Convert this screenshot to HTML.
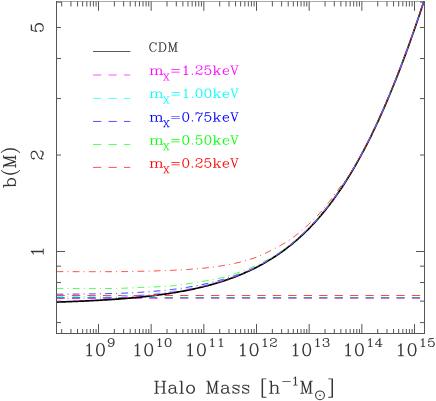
<!DOCTYPE html>
<html><head><meta charset="utf-8"><title>b(M)</title>
<style>html,body{margin:0;padding:0;background:#fff;}svg{display:block;}text{font-family:"Liberation Serif",serif;}</style></head><body>
<svg width="436" height="401" viewBox="0 0 436 401">
<rect x="0" y="0" width="436" height="401" fill="#fff"/>
<defs><clipPath id="cp"><rect x="56" y="1" width="369" height="333"/></clipPath></defs>
<g clip-path="url(#cp)">
<line x1="56.5" x2="424" y1="297.5" y2="297.5" stroke="#3ca082" stroke-width="1" stroke-dasharray="8.3 7.15" opacity="1"/>
<line x1="56.5" x2="424" y1="298.5" y2="298.5" stroke="#d26efa" stroke-width="1" stroke-dasharray="8.3 7.15" opacity="1"/>
<path d="M56.50,302.08 L57.73,302.04 L58.96,302.00 L60.19,301.96 L61.42,301.92 L62.65,301.88 L63.88,301.84 L65.11,301.79 L66.34,301.75 L67.57,301.71 L68.80,301.66 L70.03,301.61 L71.26,301.57 L72.49,301.52 L73.72,301.47 L74.95,301.42 L76.18,301.37 L77.41,301.32 L78.64,301.27 L79.87,301.22 L81.10,301.17 L82.33,301.11 L83.56,301.06 L84.79,301.00 L86.02,300.94 L87.25,300.88 L88.48,300.82 L89.71,300.76 L90.94,300.70 L92.17,300.64 L93.40,300.57 L94.63,300.51 L95.86,300.44 L97.09,300.38 L98.32,300.31 L99.55,300.24 L100.78,300.17 L102.01,300.09 L103.24,300.02 L104.47,299.95 L105.70,299.87 L106.93,299.79 L108.16,299.71 L109.39,299.63 L110.62,299.55 L111.85,299.47 L113.08,299.38 L114.31,299.30 L115.54,299.21 L116.77,299.12 L118.01,299.03 L119.24,298.94 L120.47,298.84 L121.70,298.75 L122.93,298.65 L124.16,298.55 L125.39,298.45 L126.62,298.35 L127.85,298.24 L129.08,298.14 L130.31,298.03 L131.54,297.92 L132.77,297.81 L134.00,297.69 L135.23,297.58 L136.46,297.46 L137.69,297.34 L138.92,297.22 L140.15,297.09 L141.38,296.97 L142.61,296.84 L143.84,296.71 L145.07,296.57 L146.30,296.44 L147.53,296.30 L148.76,296.16 L149.99,296.02 L151.22,295.87 L152.45,295.72 L153.68,295.57 L154.91,295.42 L156.14,295.26 L157.37,295.11 L158.60,294.94 L159.83,294.78 L161.06,294.61 L162.29,294.44 L163.52,294.27 L164.75,294.09 L165.98,293.91 L167.21,293.73 L168.44,293.55 L169.67,293.36 L170.90,293.17 L172.13,292.97 L173.36,292.77 L174.59,292.57 L175.82,292.36 L177.05,292.15 L178.28,291.94 L179.51,291.72 L180.74,291.50 L181.97,291.28 L183.20,291.05 L184.43,290.82 L185.66,290.58 L186.89,290.34 L188.12,290.10 L189.35,289.85 L190.58,289.60 L191.81,289.34 L193.04,289.08 L194.27,288.81 L195.50,288.54 L196.73,288.26 L197.96,287.98 L199.19,287.70 L200.42,287.41 L201.65,287.11 L202.88,286.81 L204.11,286.51 L205.34,286.20 L206.57,285.88 L207.80,285.56 L209.03,285.23 L210.26,284.90 L211.49,284.56 L212.72,284.22 L213.95,283.87 L215.18,283.51 L216.41,283.15 L217.64,282.78 L218.87,282.41 L220.10,282.03 L221.33,281.64 L222.56,281.24 L223.79,280.84 L225.02,280.43 L226.25,280.02 L227.48,279.60 L228.71,279.17 L229.94,278.73 L231.17,278.29 L232.40,277.84 L233.63,277.38 L234.86,276.91 L236.09,276.44 L237.32,275.96 L238.55,275.46 L239.78,274.97 L241.02,274.46 L242.25,273.94 L243.48,273.42 L244.71,272.88 L245.94,272.34 L247.17,271.79 L248.40,271.23 L249.63,270.66 L250.86,270.08 L252.09,269.49 L253.32,268.89 L254.55,268.28 L255.78,267.66 L257.01,267.03 L258.24,266.39 L259.47,265.74 L260.70,265.08 L261.93,264.40 L263.16,263.72 L264.39,263.02 L265.62,262.32 L266.85,261.60 L268.08,260.87 L269.31,260.12 L270.54,259.37 L271.77,258.60 L273.00,257.82 L274.23,257.03 L275.46,256.22 L276.69,255.40 L277.92,254.57 L279.15,253.73 L280.38,252.87 L281.61,251.99 L282.84,251.11 L284.07,250.20 L285.30,249.29 L286.53,248.35 L287.76,247.41 L288.99,246.45 L290.22,245.47 L291.45,244.48 L292.68,243.47 L293.91,242.44 L295.14,241.40 L296.37,240.34 L297.60,239.27 L298.83,238.18 L300.06,237.07 L301.29,235.94 L302.52,234.80 L303.75,233.64 L304.98,232.46 L306.21,231.26 L307.44,230.04 L308.67,228.80 L309.90,227.55 L311.13,226.28 L312.36,224.98 L313.59,223.67 L314.82,222.33 L316.05,220.98 L317.28,219.60 L318.51,218.21 L319.74,216.79 L320.97,215.35 L322.20,213.89 L323.43,212.41 L324.66,210.91 L325.89,209.38 L327.12,207.84 L328.35,206.27 L329.58,204.67 L330.81,203.05 L332.04,201.41 L333.27,199.75 L334.50,198.06 L335.73,196.35 L336.96,194.61 L338.19,192.85 L339.42,191.07 L340.65,189.25 L341.88,187.42 L343.11,185.56 L344.34,183.67 L345.57,181.76 L346.80,179.82 L348.03,177.85 L349.26,175.86 L350.49,173.84 L351.72,171.79 L352.95,169.72 L354.18,167.62 L355.41,165.49 L356.64,163.34 L357.87,161.15 L359.10,158.94 L360.33,156.70 L361.56,154.44 L362.79,152.14 L364.03,149.82 L365.26,147.46 L366.49,145.08 L367.72,142.67 L368.95,140.23 L370.18,137.76 L371.41,135.27 L372.64,132.74 L373.87,130.18 L375.10,127.60 L376.33,124.98 L377.56,122.34 L378.79,119.66 L380.02,116.96 L381.25,114.22 L382.48,111.46 L383.71,108.67 L384.94,105.85 L386.17,102.99 L387.40,100.11 L388.63,97.20 L389.86,94.26 L391.09,91.28 L392.32,88.28 L393.55,85.25 L394.78,82.19 L396.01,79.10 L397.24,75.98 L398.47,72.83 L399.70,69.66 L400.93,66.45 L402.16,63.21 L403.39,59.95 L404.62,56.65 L405.85,53.33 L407.08,49.98 L408.31,46.60 L409.54,43.19 L410.77,39.75 L412.00,36.29 L413.23,32.80 L414.46,29.28 L415.69,25.73 L416.92,22.15 L418.15,18.55 L419.38,14.92 L420.61,11.27 L421.84,7.59 L423.07,3.88 L424.30,0.14" fill="none" stroke="#000" stroke-width="1.7" stroke-linejoin="round"/>
<line x1="56.5" x2="424" y1="295.5" y2="295.5" stroke="#ff2828" stroke-width="1" stroke-dasharray="8.3 7.15" opacity="0.85"/>
<path d="M56.50,271.60 L57.42,271.61 L58.34,271.61 L59.27,271.62 L60.19,271.62 L61.11,271.63 L62.03,271.63 L62.95,271.63 L63.87,271.64 L64.80,271.64 L65.72,271.64 L66.64,271.65 L67.56,271.65 L68.48,271.65 L69.41,271.66 L70.33,271.66 L71.25,271.66 L72.17,271.67 L73.09,271.67 L74.01,271.67 L74.94,271.67 L75.86,271.67 L76.78,271.68 L77.70,271.68 L78.62,271.68 L79.55,271.68 L80.47,271.68 L81.39,271.69 L82.31,271.69 L83.23,271.69 L84.15,271.69 L85.08,271.69 L86.00,271.69 L86.92,271.69 L87.84,271.69 L88.76,271.69 L89.68,271.69 L90.61,271.70 L91.53,271.70 L92.45,271.70 L93.37,271.70 L94.29,271.70 L95.22,271.70 L96.14,271.70 L97.06,271.70 L97.98,271.70 L98.90,271.70 L99.82,271.70 L100.75,271.70 L101.67,271.70 L102.59,271.70 L103.51,271.70 L104.43,271.70 L105.36,271.70 L106.28,271.70 L107.20,271.70 L108.12,271.70 L109.04,271.70 L109.96,271.70 L110.89,271.70 L111.81,271.70 L112.73,271.69 L113.65,271.69 L114.57,271.69 L115.50,271.68 L116.42,271.67 L117.34,271.66 L118.26,271.66 L119.18,271.65 L120.10,271.64 L121.03,271.62 L121.95,271.61 L122.87,271.60 L123.79,271.59 L124.71,271.57 L125.64,271.56 L126.56,271.54 L127.48,271.53 L128.40,271.51 L129.32,271.50 L130.24,271.48 L131.17,271.46 L132.09,271.45 L133.01,271.43 L133.93,271.41 L134.85,271.40 L135.78,271.38 L136.70,271.36 L137.62,271.34 L138.54,271.33 L139.46,271.31 L140.38,271.29 L141.31,271.28 L142.23,271.26 L143.15,271.24 L144.07,271.22 L144.99,271.20 L145.92,271.18 L146.84,271.15 L147.76,271.13 L148.68,271.11 L149.60,271.09 L150.52,271.06 L151.45,271.04 L152.37,271.01 L153.29,270.98 L154.21,270.96 L155.13,270.93 L156.05,270.90 L156.98,270.87 L157.90,270.84 L158.82,270.81 L159.74,270.78 L160.66,270.75 L161.59,270.72 L162.51,270.69 L163.43,270.65 L164.35,270.62 L165.27,270.58 L166.19,270.55 L167.12,270.51 L168.04,270.48 L168.96,270.44 L169.88,270.40 L170.80,270.37 L171.73,270.33 L172.65,270.29 L173.57,270.25 L174.49,270.20 L175.41,270.16 L176.33,270.11 L177.26,270.07 L178.18,270.02 L179.10,269.97 L180.02,269.92 L180.94,269.87 L181.87,269.81 L182.79,269.76 L183.71,269.70 L184.63,269.65 L185.55,269.59 L186.47,269.53 L187.40,269.47 L188.32,269.41 L189.24,269.34 L190.16,269.28 L191.08,269.21 L192.01,269.14 L192.93,269.08 L193.85,269.01 L194.77,268.93 L195.69,268.86 L196.61,268.79 L197.54,268.71 L198.46,268.63 L199.38,268.55 L200.30,268.47 L201.22,268.39 L202.15,268.30 L203.07,268.21 L203.99,268.12 L204.91,268.02 L205.83,267.92 L206.75,267.82 L207.68,267.72 L208.60,267.61 L209.52,267.49 L210.44,267.38 L211.36,267.26 L212.28,267.14 L213.21,267.01 L214.13,266.89 L215.05,266.76 L215.97,266.63 L216.89,266.49 L217.82,266.35 L218.74,266.21 L219.66,266.07 L220.58,265.92 L221.50,265.78 L222.42,265.63 L223.35,265.47 L224.27,265.32 L225.19,265.16 L226.11,265.00 L227.03,264.84 L227.96,264.67 L228.88,264.51 L229.80,264.34 L230.72,264.17 L231.64,263.99 L232.56,263.80 L233.49,263.61 L234.41,263.42 L235.33,263.22 L236.25,263.01 L237.17,262.80 L238.10,262.58 L239.02,262.36 L239.94,262.13 L240.86,261.90 L241.78,261.66 L242.70,261.41 L243.63,261.16 L244.55,260.91 L245.47,260.65 L246.39,260.38 L247.31,260.11 L248.24,259.84 L249.16,259.56 L250.08,259.27 L251.00,258.98 L251.92,258.68 L252.84,258.38 L253.77,258.08 L254.69,257.76 L255.61,257.43 L256.53,257.08 L257.45,256.72 L258.38,256.34 L259.30,255.95 L260.22,255.54 L261.14,255.13 L262.06,254.71 L262.98,254.28 L263.91,253.85 L264.83,253.41 L265.75,252.97 L266.67,252.53 L267.59,252.09 L268.52,251.65 L269.44,251.21 L270.36,250.77 L271.28,250.32 L272.20,249.86 L273.12,249.40 L274.05,248.94 L274.97,248.46 L275.89,247.98 L276.81,247.50 L277.73,247.00 L278.65,246.50 L279.58,245.99 L280.50,245.47 L281.42,244.94 L282.34,244.40 L283.26,243.85 L284.19,243.29 L285.11,242.72 L286.03,242.14 L286.95,241.55 L287.87,240.94 L288.79,240.33 L289.72,239.71 L290.64,239.08 L291.56,238.44 L292.48,237.78 L293.40,237.12 L294.33,236.45 L295.25,235.77 L296.17,235.07 L297.09,234.36 L298.01,233.63 L298.93,232.89 L299.86,232.13 L300.78,231.35 L301.70,230.56 L302.62,229.76 L303.54,228.95 L304.47,228.13 L305.39,227.29 L306.31,226.45 L307.23,225.61 L308.15,224.76 L309.07,223.90 L310.00,223.03 L310.92,222.15 L311.84,221.26 L312.76,220.36 L313.68,219.45 L314.61,218.52 L315.53,217.59 L316.45,216.64 L317.37,215.67 L318.29,214.69 L319.21,213.70 L320.14,212.69 L321.06,211.66 L321.98,210.62 L322.90,209.55 L323.82,208.47 L324.75,207.37 L325.67,206.26 L326.59,205.14 L327.51,204.00 L328.43,202.85 L329.35,201.68 L330.28,200.50 L331.20,199.29 L332.12,198.06 L333.04,196.81 L333.96,195.54 L334.88,194.26 L335.81,192.98 L336.73,191.69 L337.65,190.42 L338.57,189.16 L339.49,187.91 L340.42,186.68 L341.34,185.46 L342.26,184.24 L343.18,183.02 L344.10,181.81 L345.02,180.60 L345.95,179.40 L346.87,178.20 L347.79,177.00 L348.71,175.81 L349.63,174.62 L350.56,173.24 L351.48,171.71 L352.40,170.16 L353.32,168.60 L354.24,167.02 L355.16,165.43 L356.09,163.82 L357.01,162.19 L357.93,160.55 L358.85,158.90 L359.77,157.23 L360.70,155.54 L361.62,153.84 L362.54,152.12 L363.46,150.39 L364.38,148.64 L365.30,146.87 L366.23,145.09 L367.15,143.29 L368.07,141.47 L368.99,139.64 L369.91,137.79 L370.84,135.93 L371.76,134.05 L372.68,132.15 L373.60,130.24 L374.52,128.31 L375.44,126.36 L376.37,124.40 L377.29,122.42 L378.21,120.42 L379.13,118.41 L380.05,116.38 L380.98,114.33 L381.90,112.27 L382.82,110.19 L383.74,108.09 L384.66,105.98 L385.58,103.85 L386.51,101.70 L387.43,99.54 L388.35,97.36 L389.27,95.16 L390.19,92.95 L391.12,90.72 L392.04,88.47 L392.96,86.21 L393.88,83.93 L394.80,81.63 L395.72,79.32 L396.65,76.99 L397.57,74.64 L398.49,72.28 L399.41,69.90 L400.33,67.50 L401.25,65.09 L402.18,62.66 L403.10,60.22 L404.02,57.76 L404.94,55.28 L405.86,52.79 L406.79,50.28 L407.71,47.75 L408.63,45.21 L409.55,42.66 L410.47,40.08 L411.39,37.49 L412.32,34.89 L413.24,32.27 L414.16,29.64 L415.08,26.98 L416.00,24.32 L416.93,21.64 L417.85,18.94 L418.77,16.23 L419.69,13.50 L420.61,10.76 L421.53,8.00 L422.46,5.23 L423.38,2.44 L424.30,-0.36" fill="none" stroke="#ff0000" stroke-width="1" stroke-dasharray="6.8 4.2 1 4.2" stroke-dashoffset="0" opacity="0.75"/>
<path d="M56.50,288.40 L57.42,288.41 L58.34,288.41 L59.27,288.42 L60.19,288.42 L61.11,288.43 L62.03,288.43 L62.95,288.43 L63.87,288.44 L64.80,288.44 L65.72,288.44 L66.64,288.45 L67.56,288.45 L68.48,288.45 L69.41,288.46 L70.33,288.46 L71.25,288.46 L72.17,288.47 L73.09,288.47 L74.01,288.47 L74.94,288.47 L75.86,288.47 L76.78,288.48 L77.70,288.48 L78.62,288.48 L79.55,288.48 L80.47,288.48 L81.39,288.49 L82.31,288.49 L83.23,288.49 L84.15,288.49 L85.08,288.49 L86.00,288.49 L86.92,288.49 L87.84,288.49 L88.76,288.49 L89.68,288.49 L90.61,288.50 L91.53,288.50 L92.45,288.50 L93.37,288.50 L94.29,288.50 L95.22,288.50 L96.14,288.50 L97.06,288.50 L97.98,288.50 L98.90,288.50 L99.82,288.50 L100.75,288.50 L101.67,288.50 L102.59,288.50 L103.51,288.50 L104.43,288.50 L105.36,288.50 L106.28,288.50 L107.20,288.50 L108.12,288.50 L109.04,288.50 L109.96,288.50 L110.89,288.50 L111.81,288.49 L112.73,288.49 L113.65,288.47 L114.57,288.46 L115.50,288.44 L116.42,288.43 L117.34,288.40 L118.26,288.38 L119.18,288.35 L120.10,288.33 L121.03,288.30 L121.95,288.27 L122.87,288.23 L123.79,288.20 L124.71,288.16 L125.64,288.12 L126.56,288.09 L127.48,288.05 L128.40,288.01 L129.32,287.97 L130.24,287.93 L131.17,287.88 L132.09,287.84 L133.01,287.80 L133.93,287.76 L134.85,287.72 L135.78,287.68 L136.70,287.64 L137.62,287.60 L138.54,287.56 L139.46,287.52 L140.38,287.48 L141.31,287.45 L142.23,287.41 L143.15,287.37 L144.07,287.34 L144.99,287.30 L145.92,287.26 L146.84,287.23 L147.76,287.19 L148.68,287.15 L149.60,287.11 L150.52,287.07 L151.45,287.04 L152.37,287.00 L153.29,286.95 L154.21,286.91 L155.13,286.87 L156.05,286.83 L156.98,286.78 L157.90,286.74 L158.82,286.69 L159.74,286.64 L160.66,286.59 L161.59,286.54 L162.51,286.49 L163.43,286.43 L164.35,286.38 L165.27,286.32 L166.19,286.26 L167.12,286.20 L168.04,286.14 L168.96,286.08 L169.88,286.01 L170.80,285.94 L171.73,285.86 L172.65,285.78 L173.57,285.69 L174.49,285.60 L175.41,285.50 L176.33,285.40 L177.26,285.29 L178.18,285.18 L179.10,285.06 L180.02,284.94 L180.94,284.81 L181.87,284.69 L182.79,284.55 L183.71,284.42 L184.63,284.28 L185.55,284.14 L186.47,284.00 L187.40,283.86 L188.32,283.71 L189.24,283.56 L190.16,283.41 L191.08,283.26 L192.01,283.11 L192.93,282.96 L193.85,282.81 L194.77,282.66 L195.69,282.50 L196.61,282.35 L197.54,282.20 L198.46,282.05 L199.38,281.90 L200.30,281.75 L201.22,281.60 L202.15,281.45 L203.07,281.30 L203.99,281.15 L204.91,281.00 L205.83,280.85 L206.75,280.69 L207.68,280.54 L208.60,280.38 L209.52,280.22 L210.44,280.05 L211.36,279.88 L212.28,279.71 L213.21,279.54 L214.13,279.36 L215.05,279.18 L215.97,279.00 L216.89,278.81 L217.82,278.61 L218.74,278.41 L219.66,278.21 L220.58,278.00 L221.50,277.78 L222.42,277.55 L223.35,277.31 L224.27,277.07 L225.19,276.81 L226.11,276.54 L227.03,276.27 L227.96,275.99 L228.88,275.70 L229.80,275.41 L230.72,275.11 L231.64,274.81 L232.56,274.50 L233.49,274.19 L234.41,273.88 L235.33,273.57 L236.25,273.25 L237.17,272.94 L238.10,272.63 L239.02,272.31 L239.94,271.99 L240.86,271.66 L241.78,271.33 L242.70,270.99 L243.63,270.66 L244.55,270.31 L245.47,269.96 L246.39,269.61 L247.31,269.24 L248.24,268.88 L249.16,268.50 L250.08,268.12 L251.00,267.73 L251.92,267.33 L252.84,266.93 L253.77,266.52 L254.69,266.10 L255.61,265.68 L256.53,265.24 L257.45,264.81 L258.38,264.36 L259.30,263.91 L260.22,263.45 L261.14,262.99 L262.06,262.52 L262.98,262.04 L263.91,261.56 L264.83,261.07 L265.75,260.58 L266.67,260.08 L267.59,259.57 L268.52,259.06 L269.44,258.54 L270.36,258.02 L271.28,257.49 L272.20,256.95 L273.12,256.41 L274.05,255.87 L274.97,255.32 L275.89,254.76 L276.81,254.19 L277.73,253.61 L278.65,253.02 L279.58,252.42 L280.50,251.81 L281.42,251.19 L282.34,250.57 L283.26,249.93 L284.19,249.28 L285.11,248.63 L286.03,247.97 L286.95,247.30 L287.87,246.63 L288.79,245.95 L289.72,245.26 L290.64,244.56 L291.56,243.86 L292.48,243.13 L293.40,242.37 L294.33,241.59 L295.25,240.81 L296.17,240.02 L297.09,239.22 L298.01,238.40 L298.93,237.58 L299.86,236.75 L300.78,235.91 L301.70,235.06 L302.62,234.20 L303.54,233.33 L304.47,232.45 L305.39,231.56 L306.31,230.66 L307.23,229.75 L308.15,228.83 L309.07,227.89 L310.00,226.95 L310.92,226.00 L311.84,225.03 L312.76,224.06 L313.68,223.07 L314.61,222.07 L315.53,221.06 L316.45,220.04 L317.37,219.00 L318.29,217.96 L319.21,216.90 L320.14,215.83 L321.06,214.75 L321.98,213.66 L322.90,212.55 L323.82,211.44 L324.75,210.31 L325.67,209.16 L326.59,208.01 L327.51,206.84 L328.43,205.66 L329.35,204.47 L330.28,203.26 L331.20,202.04 L332.12,200.81 L333.04,199.56 L333.96,198.31 L334.88,197.03 L335.81,195.75 L336.73,194.45 L337.65,193.13 L338.57,191.80 L339.49,190.46 L340.42,189.11 L341.34,187.74 L342.26,186.35 L343.18,184.95 L344.10,183.54 L345.02,182.11 L345.95,180.67 L346.87,179.21 L347.79,177.74 L348.71,176.25 L349.63,174.75 L350.56,173.24 L351.48,171.71 L352.40,170.16 L353.32,168.60 L354.24,167.02 L355.16,165.43 L356.09,163.82 L357.01,162.19 L357.93,160.55 L358.85,158.90 L359.77,157.23 L360.70,155.54 L361.62,153.84 L362.54,152.12 L363.46,150.39 L364.38,148.64 L365.30,146.87 L366.23,145.09 L367.15,143.29 L368.07,141.47 L368.99,139.64 L369.91,137.79 L370.84,135.93 L371.76,134.05 L372.68,132.15 L373.60,130.24 L374.52,128.31 L375.44,126.36 L376.37,124.40 L377.29,122.42 L378.21,120.42 L379.13,118.41 L380.05,116.38 L380.98,114.33 L381.90,112.27 L382.82,110.19 L383.74,108.09 L384.66,105.98 L385.58,103.85 L386.51,101.70 L387.43,99.54 L388.35,97.36 L389.27,95.16 L390.19,92.95 L391.12,90.72 L392.04,88.47 L392.96,86.21 L393.88,83.93 L394.80,81.63 L395.72,79.32 L396.65,76.99 L397.57,74.64 L398.49,72.28 L399.41,69.90 L400.33,67.50 L401.25,65.09 L402.18,62.66 L403.10,60.22 L404.02,57.76 L404.94,55.28 L405.86,52.79 L406.79,50.28 L407.71,47.75 L408.63,45.21 L409.55,42.66 L410.47,40.08 L411.39,37.49 L412.32,34.89 L413.24,32.27 L414.16,29.64 L415.08,26.98 L416.00,24.32 L416.93,21.64 L417.85,18.94 L418.77,16.23 L419.69,13.50 L420.61,10.76 L421.53,8.00 L422.46,5.23 L423.38,2.44 L424.30,-0.36" fill="none" stroke="#00ff00" stroke-width="1" stroke-dasharray="6.8 4.2 1 4.2" stroke-dashoffset="0" opacity="0.75"/>
<path d="M56.50,294.20 L57.42,294.20 L58.34,294.20 L59.27,294.20 L60.19,294.20 L61.11,294.19 L62.03,294.19 L62.95,294.19 L63.87,294.18 L64.80,294.18 L65.72,294.18 L66.64,294.17 L67.56,294.17 L68.48,294.16 L69.41,294.15 L70.33,294.15 L71.25,294.14 L72.17,294.13 L73.09,294.13 L74.01,294.12 L74.94,294.11 L75.86,294.10 L76.78,294.09 L77.70,294.08 L78.62,294.08 L79.55,294.07 L80.47,294.06 L81.39,294.05 L82.31,294.03 L83.23,294.02 L84.15,294.01 L85.08,294.00 L86.00,293.99 L86.92,293.98 L87.84,293.96 L88.76,293.95 L89.68,293.94 L90.61,293.93 L91.53,293.91 L92.45,293.90 L93.37,293.88 L94.29,293.87 L95.22,293.86 L96.14,293.84 L97.06,293.83 L97.98,293.81 L98.90,293.80 L99.82,293.78 L100.75,293.77 L101.67,293.75 L102.59,293.73 L103.51,293.72 L104.43,293.70 L105.36,293.69 L106.28,293.67 L107.20,293.65 L108.12,293.63 L109.04,293.62 L109.96,293.60 L110.89,293.58 L111.81,293.56 L112.73,293.54 L113.65,293.52 L114.57,293.49 L115.50,293.46 L116.42,293.44 L117.34,293.40 L118.26,293.37 L119.18,293.34 L120.10,293.30 L121.03,293.27 L121.95,293.23 L122.87,293.19 L123.79,293.15 L124.71,293.11 L125.64,293.07 L126.56,293.02 L127.48,292.98 L128.40,292.93 L129.32,292.89 L130.24,292.84 L131.17,292.79 L132.09,292.74 L133.01,292.69 L133.93,292.64 L134.85,292.59 L135.78,292.54 L136.70,292.49 L137.62,292.44 L138.54,292.38 L139.46,292.33 L140.38,292.28 L141.31,292.22 L142.23,292.17 L143.15,292.11 L144.07,292.05 L144.99,291.98 L145.92,291.92 L146.84,291.86 L147.76,291.79 L148.68,291.72 L149.60,291.65 L150.52,291.58 L151.45,291.50 L152.37,291.43 L153.29,291.35 L154.21,291.27 L155.13,291.19 L156.05,291.11 L156.98,291.03 L157.90,290.94 L158.82,290.85 L159.74,290.77 L160.66,290.68 L161.59,290.59 L162.51,290.50 L163.43,290.40 L164.35,290.31 L165.27,290.21 L166.19,290.11 L167.12,290.02 L168.04,289.92 L168.96,289.82 L169.88,289.71 L170.80,289.61 L171.73,289.50 L172.65,289.39 L173.57,289.28 L174.49,289.16 L175.41,289.04 L176.33,288.92 L177.26,288.80 L178.18,288.67 L179.10,288.54 L180.02,288.41 L180.94,288.28 L181.87,288.14 L182.79,288.00 L183.71,287.86 L184.63,287.71 L185.55,287.57 L186.47,287.42 L187.40,287.27 L188.32,287.11 L189.24,286.96 L190.16,286.80 L191.08,286.64 L192.01,286.48 L192.93,286.32 L193.85,286.15 L194.77,285.98 L195.69,285.81 L196.61,285.64 L197.54,285.47 L198.46,285.30 L199.38,285.12 L200.30,284.94 L201.22,284.76 L202.15,284.57 L203.07,284.38 L203.99,284.18 L204.91,283.98 L205.83,283.77 L206.75,283.56 L207.68,283.35 L208.60,283.13 L209.52,282.91 L210.44,282.68 L211.36,282.45 L212.28,282.22 L213.21,281.98 L214.13,281.75 L215.05,281.51 L215.97,281.26 L216.89,281.02 L217.82,280.77 L218.74,280.52 L219.66,280.27 L220.58,280.02 L221.50,279.76 L222.42,279.50 L223.35,279.24 L224.27,278.97 L225.19,278.70 L226.11,278.42 L227.03,278.14 L227.96,277.85 L228.88,277.56 L229.80,277.27 L230.72,276.97 L231.64,276.67 L232.56,276.36 L233.49,276.06 L234.41,275.75 L235.33,275.43 L236.25,275.11 L237.17,274.79 L238.10,274.46 L239.02,274.13 L239.94,273.80 L240.86,273.46 L241.78,273.11 L242.70,272.77 L243.63,272.41 L244.55,272.06 L245.47,271.70 L246.39,271.33 L247.31,270.96 L248.24,270.59 L249.16,270.21 L250.08,269.83 L251.00,269.45 L251.92,269.06 L252.84,268.62 L253.77,268.17 L254.69,267.71 L255.61,267.24 L256.53,266.77 L257.45,266.30 L258.38,265.82 L259.30,265.33 L260.22,264.83 L261.14,264.33 L262.06,263.83 L262.98,263.32 L263.91,262.80 L264.83,262.27 L265.75,261.74 L266.67,261.20 L267.59,260.66 L268.52,260.10 L269.44,259.54 L270.36,258.98 L271.28,258.41 L272.20,257.83 L273.12,257.24 L274.05,256.65 L274.97,256.05 L275.89,255.44 L276.81,254.82 L277.73,254.20 L278.65,253.57 L279.58,252.93 L280.50,252.28 L281.42,251.63 L282.34,250.96 L283.26,250.29 L284.19,249.62 L285.11,248.93 L286.03,248.23 L286.95,247.53 L287.87,246.82 L288.79,246.10 L289.72,245.37 L290.64,244.63 L291.56,243.89 L292.48,243.13 L293.40,242.37 L294.33,241.59 L295.25,240.81 L296.17,240.02 L297.09,239.22 L298.01,238.40 L298.93,237.58 L299.86,236.75 L300.78,235.91 L301.70,235.06 L302.62,234.20 L303.54,233.33 L304.47,232.45 L305.39,231.56 L306.31,230.66 L307.23,229.75 L308.15,228.83 L309.07,227.89 L310.00,226.95 L310.92,226.00 L311.84,225.03 L312.76,224.06 L313.68,223.07 L314.61,222.07 L315.53,221.06 L316.45,220.04 L317.37,219.00 L318.29,217.96 L319.21,216.90 L320.14,215.83 L321.06,214.75 L321.98,213.66 L322.90,212.55 L323.82,211.44 L324.75,210.31 L325.67,209.16 L326.59,208.01 L327.51,206.84 L328.43,205.66 L329.35,204.47 L330.28,203.26 L331.20,202.04 L332.12,200.81 L333.04,199.56 L333.96,198.31 L334.88,197.03 L335.81,195.75 L336.73,194.45 L337.65,193.13 L338.57,191.80 L339.49,190.46 L340.42,189.11 L341.34,187.74 L342.26,186.35 L343.18,184.95 L344.10,183.54 L345.02,182.11 L345.95,180.67 L346.87,179.21 L347.79,177.74 L348.71,176.25 L349.63,174.75 L350.56,173.24 L351.48,171.71 L352.40,170.16 L353.32,168.60 L354.24,167.02 L355.16,165.43 L356.09,163.82 L357.01,162.19 L357.93,160.55 L358.85,158.90 L359.77,157.23 L360.70,155.54 L361.62,153.84 L362.54,152.12 L363.46,150.39 L364.38,148.64 L365.30,146.87 L366.23,145.09 L367.15,143.29 L368.07,141.47 L368.99,139.64 L369.91,137.79 L370.84,135.93 L371.76,134.05 L372.68,132.15 L373.60,130.24 L374.52,128.31 L375.44,126.36 L376.37,124.40 L377.29,122.42 L378.21,120.42 L379.13,118.41 L380.05,116.38 L380.98,114.33 L381.90,112.27 L382.82,110.19 L383.74,108.09 L384.66,105.98 L385.58,103.85 L386.51,101.70 L387.43,99.54 L388.35,97.36 L389.27,95.16 L390.19,92.95 L391.12,90.72 L392.04,88.47 L392.96,86.21 L393.88,83.93 L394.80,81.63 L395.72,79.32 L396.65,76.99 L397.57,74.64 L398.49,72.28 L399.41,69.90 L400.33,67.50 L401.25,65.09 L402.18,62.66 L403.10,60.22 L404.02,57.76 L404.94,55.28 L405.86,52.79 L406.79,50.28 L407.71,47.75 L408.63,45.21 L409.55,42.66 L410.47,40.08 L411.39,37.49 L412.32,34.89 L413.24,32.27 L414.16,29.64 L415.08,26.98 L416.00,24.32 L416.93,21.64 L417.85,18.94 L418.77,16.23 L419.69,13.50 L420.61,10.76 L421.53,8.00 L422.46,5.23 L423.38,2.44 L424.30,-0.36" fill="none" stroke="#0000ff" stroke-width="1" stroke-dasharray="6.8 4.2 1 4.2" stroke-dashoffset="0" opacity="0.8"/>
<path d="M56.50,296.60 L57.42,296.60 L58.34,296.60 L59.27,296.60 L60.19,296.60 L61.11,296.60 L62.03,296.59 L62.95,296.59 L63.87,296.59 L64.80,296.59 L65.72,296.59 L66.64,296.58 L67.56,296.58 L68.48,296.58 L69.41,296.57 L70.33,296.57 L71.25,296.56 L72.17,296.56 L73.09,296.56 L74.01,296.55 L74.94,296.55 L75.86,296.54 L76.78,296.54 L77.70,296.53 L78.62,296.52 L79.55,296.52 L80.47,296.51 L81.39,296.50 L82.31,296.50 L83.23,296.49 L84.15,296.48 L85.08,296.48 L86.00,296.47 L86.92,296.46 L87.84,296.45 L88.76,296.44 L89.68,296.44 L90.61,296.43 L91.53,296.42 L92.45,296.41 L93.37,296.40 L94.29,296.39 L95.22,296.38 L96.14,296.37 L97.06,296.36 L97.98,296.35 L98.90,296.34 L99.82,296.33 L100.75,296.32 L101.67,296.31 L102.59,296.30 L103.51,296.28 L104.43,296.27 L105.36,296.26 L106.28,296.25 L107.20,296.24 L108.12,296.23 L109.04,296.21 L109.96,296.20 L110.89,296.19 L111.81,296.17 L112.73,296.15 L113.65,296.13 L114.57,296.11 L115.50,296.08 L116.42,296.05 L117.34,296.02 L118.26,295.99 L119.18,295.95 L120.10,295.92 L121.03,295.88 L121.95,295.84 L122.87,295.80 L123.79,295.75 L124.71,295.71 L125.64,295.66 L126.56,295.61 L127.48,295.56 L128.40,295.51 L129.32,295.46 L130.24,295.41 L131.17,295.35 L132.09,295.30 L133.01,295.24 L133.93,295.19 L134.85,295.13 L135.78,295.07 L136.70,295.01 L137.62,294.95 L138.54,294.89 L139.46,294.83 L140.38,294.77 L141.31,294.71 L142.23,294.65 L143.15,294.58 L144.07,294.50 L144.99,294.43 L145.92,294.35 L146.84,294.27 L147.76,294.19 L148.68,294.10 L149.60,294.01 L150.52,293.92 L151.45,293.83 L152.37,293.74 L153.29,293.64 L154.21,293.54 L155.13,293.44 L156.05,293.33 L156.98,293.23 L157.90,293.12 L158.82,293.01 L159.74,292.90 L160.66,292.79 L161.59,292.68 L162.51,292.56 L163.43,292.45 L164.35,292.33 L165.27,292.22 L166.19,292.10 L167.12,291.98 L168.04,291.86 L168.96,291.74 L169.88,291.62 L170.80,291.49 L171.73,291.37 L172.65,291.24 L173.57,291.11 L174.49,290.98 L175.41,290.84 L176.33,290.70 L177.26,290.56 L178.18,290.42 L179.10,290.27 L180.02,290.13 L180.94,289.98 L181.87,289.82 L182.79,289.67 L183.71,289.51 L184.63,289.35 L185.55,289.19 L186.47,289.03 L187.40,288.86 L188.32,288.70 L189.24,288.53 L190.16,288.36 L191.08,288.18 L192.01,288.01 L192.93,287.83 L193.85,287.65 L194.77,287.47 L195.69,287.28 L196.61,287.10 L197.54,286.91 L198.46,286.72 L199.38,286.53 L200.30,286.34 L201.22,286.14 L202.15,285.94 L203.07,285.74 L203.99,285.53 L204.91,285.32 L205.83,285.10 L206.75,284.88 L207.68,284.66 L208.60,284.43 L209.52,284.20 L210.44,283.97 L211.36,283.73 L212.28,283.49 L213.21,283.25 L214.13,283.00 L215.05,282.76 L215.97,282.50 L216.89,282.25 L217.82,281.99 L218.74,281.73 L219.66,281.47 L220.58,281.21 L221.50,280.94 L222.42,280.67 L223.35,280.40 L224.27,280.13 L225.19,279.85 L226.11,279.57 L227.03,279.25 L227.96,278.93 L228.88,278.61 L229.80,278.28 L230.72,277.95 L231.64,277.62 L232.56,277.28 L233.49,276.93 L234.41,276.59 L235.33,276.23 L236.25,275.88 L237.17,275.52 L238.10,275.15 L239.02,274.78 L239.94,274.40 L240.86,274.02 L241.78,273.64 L242.70,273.25 L243.63,272.85 L244.55,272.45 L245.47,272.05 L246.39,271.64 L247.31,271.22 L248.24,270.80 L249.16,270.38 L250.08,269.95 L251.00,269.51 L251.92,269.07 L252.84,268.62 L253.77,268.17 L254.69,267.71 L255.61,267.24 L256.53,266.77 L257.45,266.30 L258.38,265.82 L259.30,265.33 L260.22,264.83 L261.14,264.33 L262.06,263.83 L262.98,263.32 L263.91,262.80 L264.83,262.27 L265.75,261.74 L266.67,261.20 L267.59,260.66 L268.52,260.10 L269.44,259.54 L270.36,258.98 L271.28,258.41 L272.20,257.83 L273.12,257.24 L274.05,256.65 L274.97,256.05 L275.89,255.44 L276.81,254.82 L277.73,254.20 L278.65,253.57 L279.58,252.93 L280.50,252.28 L281.42,251.63 L282.34,250.96 L283.26,250.29 L284.19,249.62 L285.11,248.93 L286.03,248.23 L286.95,247.53 L287.87,246.82 L288.79,246.10 L289.72,245.37 L290.64,244.63 L291.56,243.89 L292.48,243.13 L293.40,242.37 L294.33,241.59 L295.25,240.81 L296.17,240.02 L297.09,239.22 L298.01,238.40 L298.93,237.58 L299.86,236.75 L300.78,235.91 L301.70,235.06 L302.62,234.20 L303.54,233.33 L304.47,232.45 L305.39,231.56 L306.31,230.66 L307.23,229.75 L308.15,228.83 L309.07,227.89 L310.00,226.95 L310.92,226.00 L311.84,225.03 L312.76,224.06 L313.68,223.07 L314.61,222.07 L315.53,221.06 L316.45,220.04 L317.37,219.00 L318.29,217.96 L319.21,216.90 L320.14,215.83 L321.06,214.75 L321.98,213.66 L322.90,212.55 L323.82,211.44 L324.75,210.31 L325.67,209.16 L326.59,208.01 L327.51,206.84 L328.43,205.66 L329.35,204.47 L330.28,203.26 L331.20,202.04 L332.12,200.81 L333.04,199.56 L333.96,198.31 L334.88,197.03 L335.81,195.75 L336.73,194.45 L337.65,193.13 L338.57,191.80 L339.49,190.46 L340.42,189.11 L341.34,187.74 L342.26,186.35 L343.18,184.95 L344.10,183.54 L345.02,182.11 L345.95,180.67 L346.87,179.21 L347.79,177.74 L348.71,176.25 L349.63,174.75 L350.56,173.24 L351.48,171.71 L352.40,170.16 L353.32,168.60 L354.24,167.02 L355.16,165.43 L356.09,163.82 L357.01,162.19 L357.93,160.55 L358.85,158.90 L359.77,157.23 L360.70,155.54 L361.62,153.84 L362.54,152.12 L363.46,150.39 L364.38,148.64 L365.30,146.87 L366.23,145.09 L367.15,143.29 L368.07,141.47 L368.99,139.64 L369.91,137.79 L370.84,135.93 L371.76,134.05 L372.68,132.15 L373.60,130.24 L374.52,128.31 L375.44,126.36 L376.37,124.40 L377.29,122.42 L378.21,120.42 L379.13,118.41 L380.05,116.38 L380.98,114.33 L381.90,112.27 L382.82,110.19 L383.74,108.09 L384.66,105.98 L385.58,103.85 L386.51,101.70 L387.43,99.54 L388.35,97.36 L389.27,95.16 L390.19,92.95 L391.12,90.72 L392.04,88.47 L392.96,86.21 L393.88,83.93 L394.80,81.63 L395.72,79.32 L396.65,76.99 L397.57,74.64 L398.49,72.28 L399.41,69.90 L400.33,67.50 L401.25,65.09 L402.18,62.66 L403.10,60.22 L404.02,57.76 L404.94,55.28 L405.86,52.79 L406.79,50.28 L407.71,47.75 L408.63,45.21 L409.55,42.66 L410.47,40.08 L411.39,37.49 L412.32,34.89 L413.24,32.27 L414.16,29.64 L415.08,26.98 L416.00,24.32 L416.93,21.64 L417.85,18.94 L418.77,16.23 L419.69,13.50 L420.61,10.76 L421.53,8.00 L422.46,5.23 L423.38,2.44 L424.30,-0.36" fill="none" stroke="#00ffff" stroke-width="1" stroke-dasharray="6.8 4.2 1 4.2" stroke-dashoffset="0" opacity="0.75"/>
<path d="M56.50,298.50 L57.42,298.50 L58.34,298.50 L59.27,298.50 L60.19,298.49 L61.11,298.49 L62.03,298.49 L62.95,298.49 L63.87,298.48 L64.80,298.48 L65.72,298.47 L66.64,298.47 L67.56,298.46 L68.48,298.46 L69.41,298.45 L70.33,298.44 L71.25,298.44 L72.17,298.43 L73.09,298.42 L74.01,298.41 L74.94,298.40 L75.86,298.39 L76.78,298.38 L77.70,298.37 L78.62,298.36 L79.55,298.35 L80.47,298.34 L81.39,298.33 L82.31,298.31 L83.23,298.30 L84.15,298.29 L85.08,298.28 L86.00,298.26 L86.92,298.25 L87.84,298.23 L88.76,298.22 L89.68,298.20 L90.61,298.19 L91.53,298.17 L92.45,298.16 L93.37,298.14 L94.29,298.12 L95.22,298.11 L96.14,298.09 L97.06,298.07 L97.98,298.06 L98.90,298.04 L99.82,298.02 L100.75,298.00 L101.67,297.98 L102.59,297.96 L103.51,297.94 L104.43,297.92 L105.36,297.90 L106.28,297.88 L107.20,297.86 L108.12,297.84 L109.04,297.82 L109.96,297.80 L110.89,297.78 L111.81,297.75 L112.73,297.72 L113.65,297.69 L114.57,297.65 L115.50,297.62 L116.42,297.57 L117.34,297.53 L118.26,297.48 L119.18,297.43 L120.10,297.38 L121.03,297.33 L121.95,297.27 L122.87,297.21 L123.79,297.15 L124.71,297.09 L125.64,297.03 L126.56,296.96 L127.48,296.90 L128.40,296.83 L129.32,296.76 L130.24,296.69 L131.17,296.62 L132.09,296.54 L133.01,296.47 L133.93,296.40 L134.85,296.32 L135.78,296.25 L136.70,296.17 L137.62,296.10 L138.54,296.02 L139.46,295.94 L140.38,295.87 L141.31,295.79 L142.23,295.71 L143.15,295.63 L144.07,295.54 L144.99,295.45 L145.92,295.36 L146.84,295.27 L147.76,295.18 L148.68,295.08 L149.60,294.98 L150.52,294.88 L151.45,294.78 L152.37,294.67 L153.29,294.57 L154.21,294.46 L155.13,294.35 L156.05,294.24 L156.98,294.13 L157.90,294.01 L158.82,293.90 L159.74,293.78 L160.66,293.66 L161.59,293.54 L162.51,293.42 L163.43,293.30 L164.35,293.17 L165.27,293.05 L166.19,292.93 L167.12,292.80 L168.04,292.67 L168.96,292.54 L169.88,292.42 L170.80,292.29 L171.73,292.15 L172.65,292.02 L173.57,291.88 L174.49,291.74 L175.41,291.60 L176.33,291.46 L177.26,291.31 L178.18,291.16 L179.10,291.01 L180.02,290.86 L180.94,290.71 L181.87,290.55 L182.79,290.39 L183.71,290.23 L184.63,290.07 L185.55,289.90 L186.47,289.74 L187.40,289.57 L188.32,289.40 L189.24,289.23 L190.16,289.06 L191.08,288.88 L192.01,288.71 L192.93,288.53 L193.85,288.35 L194.77,288.17 L195.69,287.99 L196.61,287.79 L197.54,287.58 L198.46,287.37 L199.38,287.15 L200.30,286.94 L201.22,286.72 L202.15,286.49 L203.07,286.27 L203.99,286.04 L204.91,285.81 L205.83,285.57 L206.75,285.33 L207.68,285.09 L208.60,284.85 L209.52,284.60 L210.44,284.35 L211.36,284.10 L212.28,283.84 L213.21,283.58 L214.13,283.32 L215.05,283.05 L215.97,282.78 L216.89,282.51 L217.82,282.23 L218.74,281.95 L219.66,281.66 L220.58,281.38 L221.50,281.08 L222.42,280.79 L223.35,280.49 L224.27,280.19 L225.19,279.88 L226.11,279.57 L227.03,279.25 L227.96,278.93 L228.88,278.61 L229.80,278.28 L230.72,277.95 L231.64,277.62 L232.56,277.28 L233.49,276.93 L234.41,276.59 L235.33,276.23 L236.25,275.88 L237.17,275.52 L238.10,275.15 L239.02,274.78 L239.94,274.40 L240.86,274.02 L241.78,273.64 L242.70,273.25 L243.63,272.85 L244.55,272.45 L245.47,272.05 L246.39,271.64 L247.31,271.22 L248.24,270.80 L249.16,270.38 L250.08,269.95 L251.00,269.51 L251.92,269.07 L252.84,268.62 L253.77,268.17 L254.69,267.71 L255.61,267.24 L256.53,266.77 L257.45,266.30 L258.38,265.82 L259.30,265.33 L260.22,264.83 L261.14,264.33 L262.06,263.83 L262.98,263.32 L263.91,262.80 L264.83,262.27 L265.75,261.74 L266.67,261.20 L267.59,260.66 L268.52,260.10 L269.44,259.54 L270.36,258.98 L271.28,258.41 L272.20,257.83 L273.12,257.24 L274.05,256.65 L274.97,256.05 L275.89,255.44 L276.81,254.82 L277.73,254.20 L278.65,253.57 L279.58,252.93 L280.50,252.28 L281.42,251.63 L282.34,250.96 L283.26,250.29 L284.19,249.62 L285.11,248.93 L286.03,248.23 L286.95,247.53 L287.87,246.82 L288.79,246.10 L289.72,245.37 L290.64,244.63 L291.56,243.89 L292.48,243.13 L293.40,242.37 L294.33,241.59 L295.25,240.81 L296.17,240.02 L297.09,239.22 L298.01,238.40 L298.93,237.58 L299.86,236.75 L300.78,235.91 L301.70,235.06 L302.62,234.20 L303.54,233.33 L304.47,232.45 L305.39,231.56 L306.31,230.66 L307.23,229.75 L308.15,228.83 L309.07,227.89 L310.00,226.95 L310.92,226.00 L311.84,225.03 L312.76,224.06 L313.68,223.07 L314.61,222.07 L315.53,221.06 L316.45,220.04 L317.37,219.00 L318.29,217.96 L319.21,216.90 L320.14,215.83 L321.06,214.75 L321.98,213.66 L322.90,212.55 L323.82,211.44 L324.75,210.31 L325.67,209.16 L326.59,208.01 L327.51,206.84 L328.43,205.66 L329.35,204.47 L330.28,203.26 L331.20,202.04 L332.12,200.81 L333.04,199.56 L333.96,198.31 L334.88,197.03 L335.81,195.75 L336.73,194.45 L337.65,193.13 L338.57,191.80 L339.49,190.46 L340.42,189.11 L341.34,187.74 L342.26,186.35 L343.18,184.95 L344.10,183.54 L345.02,182.11 L345.95,180.67 L346.87,179.21 L347.79,177.74 L348.71,176.25 L349.63,174.75 L350.56,173.24 L351.48,171.71 L352.40,170.16 L353.32,168.60 L354.24,167.02 L355.16,165.43 L356.09,163.82 L357.01,162.19 L357.93,160.55 L358.85,158.90 L359.77,157.23 L360.70,155.54 L361.62,153.84 L362.54,152.12 L363.46,150.39 L364.38,148.64 L365.30,146.87 L366.23,145.09 L367.15,143.29 L368.07,141.47 L368.99,139.64 L369.91,137.79 L370.84,135.93 L371.76,134.05 L372.68,132.15 L373.60,130.24 L374.52,128.31 L375.44,126.36 L376.37,124.40 L377.29,122.42 L378.21,120.42 L379.13,118.41 L380.05,116.38 L380.98,114.33 L381.90,112.27 L382.82,110.19 L383.74,108.09 L384.66,105.98 L385.58,103.85 L386.51,101.70 L387.43,99.54 L388.35,97.36 L389.27,95.16 L390.19,92.95 L391.12,90.72 L392.04,88.47 L392.96,86.21 L393.88,83.93 L394.80,81.63 L395.72,79.32 L396.65,76.99 L397.57,74.64 L398.49,72.28 L399.41,69.90 L400.33,67.50 L401.25,65.09 L402.18,62.66 L403.10,60.22 L404.02,57.76 L404.94,55.28 L405.86,52.79 L406.79,50.28 L407.71,47.75 L408.63,45.21 L409.55,42.66 L410.47,40.08 L411.39,37.49 L412.32,34.89 L413.24,32.27 L414.16,29.64 L415.08,26.98 L416.00,24.32 L416.93,21.64 L417.85,18.94 L418.77,16.23 L419.69,13.50 L420.61,10.76 L421.53,8.00 L422.46,5.23 L423.38,2.44 L424.30,-0.36" fill="none" stroke="#ff00ff" stroke-width="1" stroke-dasharray="6.8 4.2 1 4.2" stroke-dashoffset="0" opacity="0.8"/>
</g>
<line x1="56.5" x2="56.5" y1="1" y2="334" stroke="#555" stroke-width="1"/>
<line x1="424.5" x2="424.5" y1="1" y2="334" stroke="#555" stroke-width="1"/>
<line x1="56" x2="425" y1="333.5" y2="333.5" stroke="#555" stroke-width="1"/>
<line x1="56" x2="425" y1="1.5" y2="1.5" stroke="#555" stroke-width="1" opacity="0.5"/>
<path d="M61.69,333.5v-4.5M61.69,1.5v5.0M70.96,333.5v-4.5M70.96,1.5v5.0M77.54,333.5v-4.5M77.54,1.5v5.0M82.64,333.5v-4.5M82.64,1.5v5.0M86.82,333.5v-4.5M86.82,1.5v5.0M90.34,333.5v-4.5M90.34,1.5v5.0M93.40,333.5v-4.5M93.40,1.5v5.0M96.09,333.5v-4.5M96.09,1.5v5.0M98.50,333.5v-9.5M98.50,1.5v9.3M114.36,333.5v-4.5M114.36,1.5v5.0M123.63,333.5v-4.5M123.63,1.5v5.0M130.21,333.5v-4.5M130.21,1.5v5.0M135.31,333.5v-4.5M135.31,1.5v5.0M139.49,333.5v-4.5M139.49,1.5v5.0M143.01,333.5v-4.5M143.01,1.5v5.0M146.07,333.5v-4.5M146.07,1.5v5.0M148.76,333.5v-4.5M148.76,1.5v5.0M151.17,333.5v-9.5M151.17,1.5v9.3M167.03,333.5v-4.5M167.03,1.5v5.0M176.30,333.5v-4.5M176.30,1.5v5.0M182.88,333.5v-4.5M182.88,1.5v5.0M187.98,333.5v-4.5M187.98,1.5v5.0M192.16,333.5v-4.5M192.16,1.5v5.0M195.68,333.5v-4.5M195.68,1.5v5.0M198.74,333.5v-4.5M198.74,1.5v5.0M201.43,333.5v-4.5M201.43,1.5v5.0M203.84,333.5v-9.5M203.84,1.5v9.3M219.70,333.5v-4.5M219.70,1.5v5.0M228.97,333.5v-4.5M228.97,1.5v5.0M235.55,333.5v-4.5M235.55,1.5v5.0M240.65,333.5v-4.5M240.65,1.5v5.0M244.83,333.5v-4.5M244.83,1.5v5.0M248.35,333.5v-4.5M248.35,1.5v5.0M251.41,333.5v-4.5M251.41,1.5v5.0M254.10,333.5v-4.5M254.10,1.5v5.0M256.51,333.5v-9.5M256.51,1.5v9.3M272.37,333.5v-4.5M272.37,1.5v5.0M281.64,333.5v-4.5M281.64,1.5v5.0M288.22,333.5v-4.5M288.22,1.5v5.0M293.32,333.5v-4.5M293.32,1.5v5.0M297.50,333.5v-4.5M297.50,1.5v5.0M301.02,333.5v-4.5M301.02,1.5v5.0M304.08,333.5v-4.5M304.08,1.5v5.0M306.77,333.5v-4.5M306.77,1.5v5.0M309.18,333.5v-9.5M309.18,1.5v9.3M325.04,333.5v-4.5M325.04,1.5v5.0M334.31,333.5v-4.5M334.31,1.5v5.0M340.89,333.5v-4.5M340.89,1.5v5.0M345.99,333.5v-4.5M345.99,1.5v5.0M350.17,333.5v-4.5M350.17,1.5v5.0M353.69,333.5v-4.5M353.69,1.5v5.0M356.75,333.5v-4.5M356.75,1.5v5.0M359.44,333.5v-4.5M359.44,1.5v5.0M361.85,333.5v-9.5M361.85,1.5v9.3M377.71,333.5v-4.5M377.71,1.5v5.0M386.98,333.5v-4.5M386.98,1.5v5.0M393.56,333.5v-4.5M393.56,1.5v5.0M398.66,333.5v-4.5M398.66,1.5v5.0M402.84,333.5v-4.5M402.84,1.5v5.0M406.36,333.5v-4.5M406.36,1.5v5.0M409.42,333.5v-4.5M409.42,1.5v5.0M412.11,333.5v-4.5M412.11,1.5v5.0M414.52,333.5v-9.5M414.52,1.5v9.3M56.5,322.60h4.5M424.5,322.60h-4.5M56.5,301.15h4.5M424.5,301.15h-4.5M56.5,282.56h4.5M424.5,282.56h-4.5M56.5,266.17h4.5M424.5,266.17h-4.5M56.5,251.50h8.5M424.5,251.50h-8.5M56.5,155.02h4.5M424.5,155.02h-4.5M56.5,98.58h4.5M424.5,98.58h-4.5M56.5,58.54h4.5M424.5,58.54h-4.5M56.5,27.48h4.5M424.5,27.48h-4.5M56.5,2.10h4.5M424.5,2.10h-4.5" fill="none" stroke="#555" stroke-width="1"/>
<path d="M11,21.8L10.6,21.6L7.6,18.6L5.8,17.8L5.2,17L5.4,16.6L6,16.2L8.2,17.2L9.1,18.1L9.2,18L9.2,0.9L5.6,0.6L5.2,0L5.4,-0.4L6,-0.8L15,-0.8L15.4,-0.6L15.8,0L15.6,0.4L15,0.8L11.8,0.9L11.8,21L11.6,21.4Z" fill-rule="evenodd" transform="translate(83.35,355.75) scale(0.5680,-0.5760)" fill="#353535"/>
<path d="M8.8,21.8L5.8,20.8L3.5,17.6L2.2,12.2L2.2,8.8L3.2,3.9L5.2,0.8L5.8,0.2L8.8,-0.8L11.2,-0.8L14.2,0.2L16.5,3.4L17.8,8.8L17.8,12.2L16.8,17.1L14.8,20.2L14.2,20.8L11.2,21.8ZM9.1,20.2L10.9,20.2L12.6,19.4L13.4,18.6L14.4,16.6L15.2,12.2L15.2,8.8L14.4,4.4L13.4,2.4L12.6,1.6L10.9,0.8L9.1,0.8L7.4,1.6L6.6,2.4L5.6,4.4L4.8,8.8L4.8,12.2L5.6,16.6L6.6,18.6L7.4,19.4Z" fill-rule="evenodd" transform="translate(94.78,355.75) scale(0.5680,-0.5760)" fill="#353535"/>
<path d="M11.2,21.9L8.8,21.9L5.4,20.6L3.1,18.2L2.1,15.2L2.1,13.8L3.1,10.8L5.8,8.1L8.8,7.1L10.2,7.1L13.2,8.1L15,9.8L15.1,9.6L14.2,5.5L13.4,3.6L11.4,1.6L9.9,0.9L7.1,0.9L5.5,1.9L5.4,2.2L6.6,3.4L6.9,4L6.6,4.6L5.6,5.6L5,5.9L4.6,5.8L3.4,4.6L3.1,4L3.1,3L4.1,0.8L4.8,0.1L7,-0.9L10.2,-0.9L13.6,0.4L15.9,2.8L16.9,4.8L17.9,8.6L17.9,15.2L16.9,18.2L14.2,20.9ZM9.1,20.1L10.9,20.1L12.4,19.4L14.2,17.5L15.1,15L15.1,14L14.2,11.5L12.5,9.8L10,8.9L9.1,8.9L7.6,9.6L5.8,11.5L4.9,14L4.9,15L5.8,17.5L7.6,19.4Z" fill-rule="evenodd" transform="translate(106.80,346.70) scale(0.4317,-0.3917)" fill="#353535"/>
<path d="M11,21.8L10.6,21.6L7.6,18.6L5.8,17.8L5.2,17L5.4,16.6L6,16.2L8.2,17.2L9.1,18.1L9.2,18L9.2,0.9L5.6,0.6L5.2,0L5.4,-0.4L6,-0.8L15,-0.8L15.4,-0.6L15.8,0L15.6,0.4L15,0.8L11.8,0.9L11.8,21L11.6,21.4Z" fill-rule="evenodd" transform="translate(131.62,355.75) scale(0.5680,-0.5760)" fill="#353535"/>
<path d="M8.8,21.8L5.8,20.8L3.5,17.6L2.2,12.2L2.2,8.8L3.2,3.9L5.2,0.8L5.8,0.2L8.8,-0.8L11.2,-0.8L14.2,0.2L16.5,3.4L17.8,8.8L17.8,12.2L16.8,17.1L14.8,20.2L14.2,20.8L11.2,21.8ZM9.1,20.2L10.9,20.2L12.6,19.4L13.4,18.6L14.4,16.6L15.2,12.2L15.2,8.8L14.4,4.4L13.4,2.4L12.6,1.6L10.9,0.8L9.1,0.8L7.4,1.6L6.6,2.4L5.6,4.4L4.8,8.8L4.8,12.2L5.6,16.6L6.6,18.6L7.4,19.4Z" fill-rule="evenodd" transform="translate(143.05,355.75) scale(0.5680,-0.5760)" fill="#353535"/>
<path d="M11,21.9L10.4,21.6L7.4,18.6L5.8,17.9L5.1,17L5.2,16.6L6,16.1L8.2,17.1L9,17.8L9.1,17.6L9.1,1L5.6,0.8L5.1,0L5.2,-0.4L6,-0.9L15,-0.9L15.4,-0.8L15.9,0L15.8,0.4L15,0.9L11.9,1L11.9,21L11.8,21.4Z" fill-rule="evenodd" transform="translate(155.07,346.70) scale(0.4317,-0.3917)" fill="#353535"/>
<path d="M8.8,21.9L5.8,20.9L5.2,20.5L3.2,17.5L2.1,12.2L2.1,8.8L3.2,3.5L5.2,0.5L5.8,0.1L8.8,-0.9L11.2,-0.9L14.2,0.1L14.8,0.5L16.8,3.5L17.9,8.8L17.9,12.2L16.8,17.5L14.8,20.5L14.2,20.9L11.2,21.9ZM9.1,20.1L10.9,20.1L12.4,19.4L13.4,18.4L14.2,16.6L15.1,12.2L15.1,8.8L14.2,4.4L13.4,2.6L12.4,1.6L10.9,0.9L9.1,0.9L7.6,1.6L6.6,2.6L5.8,4.4L4.9,8.8L4.9,12.2L5.8,16.6L6.6,18.4L7.6,19.4Z" fill-rule="evenodd" transform="translate(163.76,346.70) scale(0.4317,-0.3917)" fill="#353535"/>
<path d="M11,21.8L10.6,21.6L7.6,18.6L5.8,17.8L5.2,17L5.4,16.6L6,16.2L8.2,17.2L9.1,18.1L9.2,18L9.2,0.9L5.6,0.6L5.2,0L5.4,-0.4L6,-0.8L15,-0.8L15.4,-0.6L15.8,0L15.6,0.4L15,0.8L11.8,0.9L11.8,21L11.6,21.4Z" fill-rule="evenodd" transform="translate(184.29,355.75) scale(0.5680,-0.5760)" fill="#353535"/>
<path d="M8.8,21.8L5.8,20.8L3.5,17.6L2.2,12.2L2.2,8.8L3.2,3.9L5.2,0.8L5.8,0.2L8.8,-0.8L11.2,-0.8L14.2,0.2L16.5,3.4L17.8,8.8L17.8,12.2L16.8,17.1L14.8,20.2L14.2,20.8L11.2,21.8ZM9.1,20.2L10.9,20.2L12.6,19.4L13.4,18.6L14.4,16.6L15.2,12.2L15.2,8.8L14.4,4.4L13.4,2.4L12.6,1.6L10.9,0.8L9.1,0.8L7.4,1.6L6.6,2.4L5.6,4.4L4.8,8.8L4.8,12.2L5.6,16.6L6.6,18.6L7.4,19.4Z" fill-rule="evenodd" transform="translate(195.72,355.75) scale(0.5680,-0.5760)" fill="#353535"/>
<path d="M11,21.9L10.4,21.6L7.4,18.6L5.8,17.9L5.1,17L5.2,16.6L6,16.1L8.2,17.1L9,17.8L9.1,17.6L9.1,1L5.6,0.8L5.1,0L5.2,-0.4L6,-0.9L15,-0.9L15.4,-0.8L15.9,0L15.8,0.4L15,0.9L11.9,1L11.9,21L11.8,21.4Z" fill-rule="evenodd" transform="translate(207.74,346.70) scale(0.4317,-0.3917)" fill="#353535"/>
<path d="M11,21.9L10.4,21.6L7.4,18.6L5.8,17.9L5.1,17L5.2,16.6L6,16.1L8.2,17.1L9,17.8L9.1,17.6L9.1,1L5.6,0.8L5.1,0L5.2,-0.4L6,-0.9L15,-0.9L15.4,-0.8L15.9,0L15.8,0.4L15,0.9L11.9,1L11.9,21L11.8,21.4Z" fill-rule="evenodd" transform="translate(216.43,346.70) scale(0.4317,-0.3917)" fill="#353535"/>
<path d="M11,21.8L10.6,21.6L7.6,18.6L5.8,17.8L5.2,17L5.4,16.6L6,16.2L8.2,17.2L9.1,18.1L9.2,18L9.2,0.9L5.6,0.6L5.2,0L5.4,-0.4L6,-0.8L15,-0.8L15.4,-0.6L15.8,0L15.6,0.4L15,0.8L11.8,0.9L11.8,21L11.6,21.4Z" fill-rule="evenodd" transform="translate(236.96,355.75) scale(0.5680,-0.5760)" fill="#353535"/>
<path d="M8.8,21.8L5.8,20.8L3.5,17.6L2.2,12.2L2.2,8.8L3.2,3.9L5.2,0.8L5.8,0.2L8.8,-0.8L11.2,-0.8L14.2,0.2L16.5,3.4L17.8,8.8L17.8,12.2L16.8,17.1L14.8,20.2L14.2,20.8L11.2,21.8ZM9.1,20.2L10.9,20.2L12.6,19.4L13.4,18.6L14.4,16.6L15.2,12.2L15.2,8.8L14.4,4.4L13.4,2.4L12.6,1.6L10.9,0.8L9.1,0.8L7.4,1.6L6.6,2.4L5.6,4.4L4.8,8.8L4.8,12.2L5.6,16.6L6.6,18.6L7.4,19.4Z" fill-rule="evenodd" transform="translate(248.39,355.75) scale(0.5680,-0.5760)" fill="#353535"/>
<path d="M11,21.9L10.4,21.6L7.4,18.6L5.8,17.9L5.1,17L5.2,16.6L6,16.1L8.2,17.1L9,17.8L9.1,17.6L9.1,1L5.6,0.8L5.1,0L5.2,-0.4L6,-0.9L15,-0.9L15.4,-0.8L15.9,0L15.8,0.4L15,0.9L11.9,1L11.9,21L11.8,21.4Z" fill-rule="evenodd" transform="translate(260.41,346.70) scale(0.4317,-0.3917)" fill="#353535"/>
<path d="M4.8,20.9L3.4,19.6L2.1,17L2.2,15.6L3.4,14.4L4,14.1L4.6,14.4L5.6,15.4L5.9,16L5.6,16.6L4.4,17.8L4.6,18.4L5.5,19.2L8,20.1L11.9,20.1L13.4,19.4L14.4,18.4L15.1,16.9L15.1,15.1L14.2,13.5L11.6,11.8L5.8,8.9L3.4,6.6L2.1,3.2L2.2,-0.4L2.6,-0.8L3.4,-0.8L3.9,0L3.9,1.6L4.4,2.1L5.8,2.1L10.5,-0.8L15.4,-0.8L16.6,0.4L17.8,2.5L17.9,5L17.4,5.8L17,5.9L16.2,5.4L16.1,3.4L15.4,2.6L13.9,1.9L11.1,1.9L6.6,3.8L4.4,3.9L4.2,4.1L4.8,5.5L6.6,7.4L13,10L16.5,12.2L17.9,15L17.8,17.5L16.6,19.6L15.6,20.6L12.2,21.9L7.8,21.9Z" fill-rule="evenodd" transform="translate(269.10,346.70) scale(0.4317,-0.3917)" fill="#353535"/>
<path d="M11,21.8L10.6,21.6L7.6,18.6L5.8,17.8L5.2,17L5.4,16.6L6,16.2L8.2,17.2L9.1,18.1L9.2,18L9.2,0.9L5.6,0.6L5.2,0L5.4,-0.4L6,-0.8L15,-0.8L15.4,-0.6L15.8,0L15.6,0.4L15,0.8L11.8,0.9L11.8,21L11.6,21.4Z" fill-rule="evenodd" transform="translate(289.63,355.75) scale(0.5680,-0.5760)" fill="#353535"/>
<path d="M8.8,21.8L5.8,20.8L3.5,17.6L2.2,12.2L2.2,8.8L3.2,3.9L5.2,0.8L5.8,0.2L8.8,-0.8L11.2,-0.8L14.2,0.2L16.5,3.4L17.8,8.8L17.8,12.2L16.8,17.1L14.8,20.2L14.2,20.8L11.2,21.8ZM9.1,20.2L10.9,20.2L12.6,19.4L13.4,18.6L14.4,16.6L15.2,12.2L15.2,8.8L14.4,4.4L13.4,2.4L12.6,1.6L10.9,0.8L9.1,0.8L7.4,1.6L6.6,2.4L5.6,4.4L4.8,8.8L4.8,12.2L5.6,16.6L6.6,18.6L7.4,19.4Z" fill-rule="evenodd" transform="translate(301.06,355.75) scale(0.5680,-0.5760)" fill="#353535"/>
<path d="M11,21.9L10.4,21.6L7.4,18.6L5.8,17.9L5.1,17L5.2,16.6L6,16.1L8.2,17.1L9,17.8L9.1,17.6L9.1,1L5.6,0.8L5.1,0L5.2,-0.4L6,-0.9L15,-0.9L15.4,-0.8L15.9,0L15.8,0.4L15,0.9L11.9,1L11.9,21L11.8,21.4Z" fill-rule="evenodd" transform="translate(313.08,346.70) scale(0.4317,-0.3917)" fill="#353535"/>
<path d="M7.8,21.9L4.8,20.9L3.4,19.6L2.2,17.5L2.2,15.6L3.4,14.4L4,14.1L4.6,14.4L5.6,15.4L5.9,16L5.8,16.4L4.4,17.9L4.6,18.4L5.8,19.4L8,20.1L11.9,20.1L13.1,19.5L14.1,17.9L14.1,15.1L13.5,13.9L11.9,12.9L8.6,12.8L8.1,12L8.2,11.6L9,11.1L11.9,11.1L13.4,10.4L14.2,9.5L15.1,7L15.1,4.1L14.4,2.6L13.4,1.6L11.9,0.9L8,0.9L5.5,1.8L4.6,2.6L4.4,3.2L5.6,4.4L5.9,5L5.6,5.6L4.6,6.6L4,6.9L3.4,6.6L2.4,5.6L2.1,5L2.1,4L3.4,1.4L4.8,0.1L7.8,-0.9L12.2,-0.9L15.6,0.4L16.9,1.8L17.9,4L17.8,7.5L16.6,9.6L14.4,11.8L15.2,12.1L15.9,12.8L16.8,14.5L16.9,18L15.9,20.2L15.2,20.9L12.2,21.9Z" fill-rule="evenodd" transform="translate(321.77,346.70) scale(0.4317,-0.3917)" fill="#353535"/>
<path d="M11,21.8L10.6,21.6L7.6,18.6L5.8,17.8L5.2,17L5.4,16.6L6,16.2L8.2,17.2L9.1,18.1L9.2,18L9.2,0.9L5.6,0.6L5.2,0L5.4,-0.4L6,-0.8L15,-0.8L15.4,-0.6L15.8,0L15.6,0.4L15,0.8L11.8,0.9L11.8,21L11.6,21.4Z" fill-rule="evenodd" transform="translate(342.30,355.75) scale(0.5680,-0.5760)" fill="#353535"/>
<path d="M8.8,21.8L5.8,20.8L3.5,17.6L2.2,12.2L2.2,8.8L3.2,3.9L5.2,0.8L5.8,0.2L8.8,-0.8L11.2,-0.8L14.2,0.2L16.5,3.4L17.8,8.8L17.8,12.2L16.8,17.1L14.8,20.2L14.2,20.8L11.2,21.8ZM9.1,20.2L10.9,20.2L12.6,19.4L13.4,18.6L14.4,16.6L15.2,12.2L15.2,8.8L14.4,4.4L13.4,2.4L12.6,1.6L10.9,0.8L9.1,0.8L7.4,1.6L6.6,2.4L5.6,4.4L4.8,8.8L4.8,12.2L5.6,16.6L6.6,18.6L7.4,19.4Z" fill-rule="evenodd" transform="translate(353.73,355.75) scale(0.5680,-0.5760)" fill="#353535"/>
<path d="M11,21.9L10.4,21.6L7.4,18.6L5.8,17.9L5.1,17L5.2,16.6L6,16.1L8.2,17.1L9,17.8L9.1,17.6L9.1,1L5.6,0.8L5.1,0L5.2,-0.4L6,-0.9L15,-0.9L15.4,-0.8L15.9,0L15.8,0.4L15,0.9L11.9,1L11.9,21L11.8,21.4Z" fill-rule="evenodd" transform="translate(365.75,346.70) scale(0.4317,-0.3917)" fill="#353535"/>
<path d="M13,21.9L12.2,21.5L1.9,7.4L1.1,6L1.2,5.6L2,5.1L11,5.1L11.1,1L8.6,0.8L8.1,0L8.2,-0.4L9,-0.9L16.4,-0.8L16.9,0L16.4,0.8L13.9,1L13.9,5L18.4,5.2L18.9,6L18.8,6.4L18,6.9L13.9,7L13.9,21L13.8,21.4ZM11,16.8L11.1,7L3.9,6.9L3.8,7Z" fill-rule="evenodd" transform="translate(374.44,346.70) scale(0.4317,-0.3917)" fill="#353535"/>
<path d="M11,21.8L10.6,21.6L7.6,18.6L5.8,17.8L5.2,17L5.4,16.6L6,16.2L8.2,17.2L9.1,18.1L9.2,18L9.2,0.9L5.6,0.6L5.2,0L5.4,-0.4L6,-0.8L15,-0.8L15.4,-0.6L15.8,0L15.6,0.4L15,0.8L11.8,0.9L11.8,21L11.6,21.4Z" fill-rule="evenodd" transform="translate(394.97,355.75) scale(0.5680,-0.5760)" fill="#353535"/>
<path d="M8.8,21.8L5.8,20.8L3.5,17.6L2.2,12.2L2.2,8.8L3.2,3.9L5.2,0.8L5.8,0.2L8.8,-0.8L11.2,-0.8L14.2,0.2L16.5,3.4L17.8,8.8L17.8,12.2L16.8,17.1L14.8,20.2L14.2,20.8L11.2,21.8ZM9.1,20.2L10.9,20.2L12.6,19.4L13.4,18.6L14.4,16.6L15.2,12.2L15.2,8.8L14.4,4.4L13.4,2.4L12.6,1.6L10.9,0.8L9.1,0.8L7.4,1.6L6.6,2.4L5.6,4.4L4.8,8.8L4.8,12.2L5.6,16.6L6.6,18.6L7.4,19.4Z" fill-rule="evenodd" transform="translate(406.40,355.75) scale(0.5680,-0.5760)" fill="#353535"/>
<path d="M11,21.9L10.4,21.6L7.4,18.6L5.8,17.9L5.1,17L5.2,16.6L6,16.1L8.2,17.1L9,17.8L9.1,17.6L9.1,1L5.6,0.8L5.1,0L5.2,-0.4L6,-0.9L15,-0.9L15.4,-0.8L15.9,0L15.8,0.4L15,0.9L11.9,1L11.9,21L11.8,21.4Z" fill-rule="evenodd" transform="translate(418.42,346.70) scale(0.4317,-0.3917)" fill="#353535"/>
<path d="M4.6,21.8L4,20.6L2.1,11.2L2.2,10.6L2.6,10.2L3.4,10.2L5.5,12.2L8,13.1L10.9,13.1L12.4,12.4L14.2,10.5L15.1,8L15.1,6L14.2,3.5L12.4,1.6L10.9,0.9L8,0.9L5.5,1.8L4.6,2.6L4.4,3.2L5.6,4.4L5.9,5L5.6,5.6L4.6,6.6L4,6.9L3.4,6.6L2.4,5.6L2.1,5L2.2,3.5L3.4,1.4L4.4,0.4L7.8,-0.9L11.2,-0.9L14.2,0.1L16.9,2.8L17.9,5.8L17.9,8.2L16.6,11.6L14.2,13.9L11.2,14.9L7.8,14.9L4.6,13.8L4.5,14.4L5.4,18.8L5.6,19.1L10.2,19.1L14.6,20L15.8,20.6L15.8,21.4L15,21.9Z" fill-rule="evenodd" transform="translate(427.11,346.70) scale(0.4317,-0.3917)" fill="#353535"/>
<path d="M4.6,21.6L4.1,20.6L2.2,11.2L2.4,10.6L3,10.2L3.4,10.4L5.4,12.4L8,13.2L10.9,13.2L12.6,12.4L14.4,10.6L15.2,8L15.2,6L14.4,3.4L12.6,1.6L10.9,0.8L8,0.8L5.4,1.6L4.6,2.4L4.2,3.2L5.8,5L5.6,5.4L4,6.8L2.4,5.4L2.4,3.5L3.2,1.8L4.8,0.2L7.8,-0.8L11.2,-0.8L14.2,0.2L16.8,2.8L17.8,5.8L17.8,8.2L16.8,11.2L14.2,13.8L11.2,14.8L7.8,14.8L4.8,13.8L4.4,13.4L4.2,13.8L5.5,19.2L10.2,19.2L14.6,20.1L15.6,20.6L15.6,21.4L15,21.8Z" fill-rule="evenodd" transform="translate(43.25,33.16) rotate(-90) scale(0.5680,-0.5760)" fill="#353535"/>
<path d="M4.8,20.8L3.2,19.2L2.2,17L2.4,15.6L3.6,14.4L4.4,14.4L5.8,16L4.2,17.8L4.6,18.6L5.4,19.4L8,20.2L11.9,20.2L13.6,19.4L14.4,18.6L15.2,16.9L15.2,15.1L14.1,13.2L11.9,11.8L5.8,8.8L3.2,6.2L2.2,3.2L2.4,-0.4L3,-0.8L3.6,-0.4L3.8,1.8L4.2,2.2L5.9,2.2L10.5,-0.6L15.4,-0.6L16.8,0.8L17.6,2.5L17.8,5L17.4,5.6L17,5.8L16.4,5.4L16.2,3.2L15.6,2.6L13.9,1.8L11.1,1.8L6.6,3.6L4.2,3.8L4.1,4.1L4.6,5.6L6.4,7.4L8.4,8.4L13,10.1L16.2,12.2L16.8,12.8L17.6,14.5L17.6,17.5L16.8,19.2L15.2,20.8L12.2,21.8L7.8,21.8Z" fill-rule="evenodd" transform="translate(43.25,160.70) rotate(-90) scale(0.5680,-0.5760)" fill="#353535"/>
<path d="M11,21.8L10.6,21.6L7.6,18.6L5.8,17.8L5.2,17L5.4,16.6L6,16.2L8.2,17.2L9.1,18.1L9.2,18L9.2,0.9L5.6,0.6L5.2,0L5.4,-0.4L6,-0.8L15,-0.8L15.4,-0.6L15.8,0L15.6,0.4L15,0.8L11.8,0.9L11.8,21L11.6,21.4Z" fill-rule="evenodd" transform="translate(43.25,257.46) rotate(-90) scale(0.5680,-0.5760)" fill="#353535"/>
<line x1="93" x2="130.3" y1="51.5" y2="51.5" stroke="#5a5a5a" stroke-width="1"/>
<path d="M18,21.8L17.2,21.2L16.6,19.4L15.2,20.8L12.2,21.8L9.8,21.8L6.8,20.8L4.2,18.2L3.2,16.2L2.2,13.2L2.2,7.8L3.2,4.8L4.2,2.8L6.8,0.2L9.8,-0.8L12.2,-0.8L15.2,0.2L17.8,2.8L18.8,5L18.6,5.4L18,5.8L17.2,5.2L16.4,3.4L14.6,1.6L12,0.8L10.1,0.8L8.4,1.6L6.6,3.4L5.6,5.4L4.8,8L4.8,13L5.6,15.6L6.6,17.6L8.4,19.4L10.1,20.2L12,20.2L14.6,19.4L16.4,17.6L17.2,14.8L17.6,14.4L18.4,14.4L18.8,15L18.8,21L18.6,21.4Z" fill-rule="evenodd" transform="translate(148.30,51.50) scale(0.4400,-0.4200)" fill="#353535"/>
<path d="M1.6,21.6L1.2,21L1.6,20.4L4.2,20.1L4.2,0.9L1.6,0.6L1.2,0L1.4,-0.4L2,-0.8L12.2,-0.8L15.2,0.2L17.8,2.8L18.8,4.8L19.8,7.8L19.8,13.2L18.8,16.2L17.8,18.2L15.2,20.8L12.2,21.8ZM6.9,20.2L11.9,20.2L13.6,19.4L15.4,17.6L16.4,15.6L17.2,13L17.2,8L16.4,5.4L15.4,3.4L13.6,1.6L11.9,0.8L6.8,0.9Z" fill-rule="evenodd" transform="translate(157.59,51.50) scale(0.4400,-0.4200)" fill="#353535"/>
<path d="M1.6,21.6L1.2,21L1.6,20.4L4.2,20.1L4.2,0.9L1.6,0.6L1.2,0L1.4,-0.4L2,-0.8L8,-0.8L8.4,-0.6L8.8,0L8.6,0.4L8,0.8L5.8,0.9L5.9,15.9L11.2,-0.2L12,-0.8L12.8,-0.2L18.1,15.9L18.2,0.9L15.6,0.6L15.2,0L15.4,-0.4L16,-0.8L23.4,-0.6L23.8,0L23.4,0.6L20.8,0.9L20.8,20.1L23.4,20.4L23.8,21L23.6,21.4L23,21.8L19,21.8L18.2,21.2L12.5,4L6.8,21.2L6,21.8Z" fill-rule="evenodd" transform="translate(167.33,51.50) scale(0.4400,-0.4200)" fill="#353535"/>
<line x1="93" x2="130.3" y1="75.0" y2="75.0" stroke="#ff00ff" stroke-width="1" stroke-dasharray="8.3 7.2" opacity="0.68"/>
<path d="M1.4,14.4L1.2,14L1.6,13.4L4.2,13.1L4.2,0.9L1.6,0.6L1.2,0L1.6,-0.6L9,-0.8L9.6,-0.4L9.8,0L9.4,0.6L6.8,0.9L6.8,10.8L8.4,12.4L11,13.2L12.9,13.2L14.4,12.5L15.2,10.9L15.2,0.9L12.6,0.6L12.2,0L12.6,-0.6L20,-0.8L20.6,-0.4L20.8,0L20.4,0.6L17.8,0.9L17.8,10.8L19.4,12.4L22,13.2L23.9,13.2L25.4,12.5L26.2,10.9L26.2,0.9L23.6,0.6L23.2,0L23.4,-0.4L24,-0.8L31,-0.8L31.6,-0.4L31.8,0L31.4,0.6L28.8,0.9L28.8,11L27.8,13.2L27.2,13.8L24.2,14.8L21.8,14.8L18.8,13.8L17.2,12.2L16.2,13.8L13.2,14.8L10.8,14.8L7.8,13.8L6.9,12.9L6.6,14.4L6,14.8L2,14.8Z" fill-rule="evenodd" transform="translate(149.12,74.60) scale(0.4400,-0.4200)" fill="#ff00ff"/>
<path d="M0.6,21.8L0.2,21.4L0.2,20.6L1,20.1L2.6,20L8.5,10.5L8.6,10L2.5,0.9L0.6,0.8L0.2,0.4L0.2,-0.4L1,-0.9L7.4,-0.8L7.9,0L7.4,0.8L4.9,0.9L4.8,1.1L9.8,8.4L14.4,1L12.6,0.8L12.1,0L12.6,-0.8L19.4,-0.8L19.8,-0.4L19.8,0.4L19,0.9L17.4,1L11.5,10.5L11.4,11L17.5,20.1L19.4,20.2L19.8,20.6L19.8,21.4L19,21.9L12.6,21.8L12.1,21L12.6,20.2L15.1,20.1L15.2,19.9L10.2,12.6L5.6,20L7.4,20.2L7.9,21L7.4,21.8Z" fill-rule="evenodd" transform="translate(163.00,80.20) scale(0.3300,-0.3100)" fill="#ff00ff"/>
<path d="M3.2,6L3.4,5.6L4,5.2L22,5.2L22.4,5.4L22.8,6L22.6,6.4L22,6.8L4,6.8L3.6,6.6ZM3.2,12L3.4,11.6L4,11.2L22,11.2L22.4,11.4L22.8,12L22.6,12.4L22,12.8L4,12.8L3.6,12.6Z" fill-rule="evenodd" transform="translate(169.84,74.60) scale(0.4400,-0.4200)" fill="#ff00ff"/>
<path d="M11,21.8L10.6,21.6L7.6,18.6L5.8,17.8L5.2,17L5.4,16.6L6,16.2L8.2,17.2L9.1,18.1L9.2,18L9.2,0.9L5.6,0.6L5.2,0L5.4,-0.4L6,-0.8L15,-0.8L15.4,-0.6L15.8,0L15.6,0.4L15,0.8L11.8,0.9L11.8,21L11.6,21.4Z" fill-rule="evenodd" transform="translate(181.34,74.60) scale(0.4400,-0.4200)" fill="#ff00ff"/>
<path d="M5,2.8L4.6,2.6L3.2,1L3.4,0.6L5,-0.8L5.4,-0.6L6.8,1L6.6,1.4Z" fill-rule="evenodd" transform="translate(190.19,74.60) scale(0.4400,-0.4200)" fill="#ff00ff"/>
<path d="M4.8,20.8L3.2,19.2L2.2,17L2.4,15.6L3.6,14.4L4.4,14.4L5.8,16L4.2,17.8L4.6,18.6L5.4,19.4L8,20.2L11.9,20.2L13.6,19.4L14.4,18.6L15.2,16.9L15.2,15.1L14.1,13.2L11.9,11.8L5.8,8.8L3.2,6.2L2.2,3.2L2.4,-0.4L3,-0.8L3.6,-0.4L3.8,1.8L4.2,2.2L5.9,2.2L10.5,-0.6L15.4,-0.6L16.8,0.8L17.6,2.5L17.8,5L17.4,5.6L17,5.8L16.4,5.4L16.2,3.2L15.6,2.6L13.9,1.8L11.1,1.8L6.6,3.6L4.2,3.8L4.1,4.1L4.6,5.6L6.4,7.4L8.4,8.4L13,10.1L16.2,12.2L16.8,12.8L17.6,14.5L17.6,17.5L16.8,19.2L15.2,20.8L12.2,21.8L7.8,21.8Z" fill-rule="evenodd" transform="translate(194.65,74.60) scale(0.4400,-0.4200)" fill="#ff00ff"/>
<path d="M4.6,21.6L4.1,20.6L2.2,11.2L2.4,10.6L3,10.2L3.4,10.4L5.4,12.4L8,13.2L10.9,13.2L12.6,12.4L14.4,10.6L15.2,8L15.2,6L14.4,3.4L12.6,1.6L10.9,0.8L8,0.8L5.4,1.6L4.6,2.4L4.2,3.2L5.8,5L5.6,5.4L4,6.8L2.4,5.4L2.4,3.5L3.2,1.8L4.8,0.2L7.8,-0.8L11.2,-0.8L14.2,0.2L16.8,2.8L17.8,5.8L17.8,8.2L16.8,11.2L14.2,13.8L11.2,14.8L7.8,14.8L4.8,13.8L4.4,13.4L4.2,13.8L5.5,19.2L10.2,19.2L14.6,20.1L15.6,20.6L15.6,21.4L15,21.8Z" fill-rule="evenodd" transform="translate(203.50,74.60) scale(0.4400,-0.4200)" fill="#ff00ff"/>
<path d="M1.6,21.6L1.2,21L1.6,20.4L4.2,20.1L4.2,0.9L1.6,0.6L1.2,0L1.4,-0.4L2,-0.8L9.4,-0.6L9.8,0L9.4,0.6L6.8,0.9L6.8,3.8L9.9,6.9L14.4,0.9L12.6,0.6L12.2,0L12.6,-0.6L19.4,-0.6L19.8,0L19.6,0.4L19,0.8L17.5,0.8L11.6,8.6L16.2,13.2L19,13.2L19.6,13.6L19.6,14.4L19,14.8L12.6,14.6L12.2,14L12.4,13.6L13,13.2L14.1,13.1L6.9,5.9L6.8,21L6.6,21.4L6,21.8Z" fill-rule="evenodd" transform="translate(212.35,74.60) scale(0.4400,-0.4200)" fill="#ff00ff"/>
<path d="M8.8,14.8L5.8,13.8L3.2,11.2L2.2,8.2L2.2,5.8L3.2,2.8L5.8,0.2L8.8,-0.8L11.2,-0.8L14.2,0.2L16.6,2.6L16.6,3.4L16,3.8L15.6,3.6L13.6,1.6L11,0.8L9.1,0.8L7.4,1.6L5.6,3.4L4.8,6L4.8,7.1L16,7.2L16.4,7.4L16.8,8L16.8,10L15.8,12.2L14.2,13.8L12,14.8ZM5.1,9.1L5.6,10.6L7.4,12.4L9.1,13.2L11.9,13.2L13.4,12.5L14.2,10.9L14.1,8.8L5.2,8.8Z" fill-rule="evenodd" transform="translate(221.65,74.60) scale(0.4400,-0.4200)" fill="#ff00ff"/>
<path d="M0.6,21.6L0.2,21L0.6,20.4L2.4,20.2L2.6,19.9L9.2,-0.2L9.6,-0.6L10.4,-0.6L10.8,-0.2L17.4,19.9L17.6,20.2L19.4,20.4L19.8,21L19.6,21.4L19,21.8L13,21.8L12.4,21.4L12.2,21L12.6,20.4L15.8,20.2L15.9,19.9L10.5,4L5.1,19.9L5.2,20.2L7.4,20.4L7.8,21L7.6,21.4L7,21.8Z" fill-rule="evenodd" transform="translate(230.06,74.60) scale(0.4400,-0.4200)" fill="#ff00ff"/>
<line x1="93" x2="130.3" y1="98.4" y2="98.4" stroke="#00ffff" stroke-width="1" stroke-dasharray="8.3 7.2" opacity="0.68"/>
<path d="M1.4,14.4L1.2,14L1.6,13.4L4.2,13.1L4.2,0.9L1.6,0.6L1.2,0L1.6,-0.6L9,-0.8L9.6,-0.4L9.8,0L9.4,0.6L6.8,0.9L6.8,10.8L8.4,12.4L11,13.2L12.9,13.2L14.4,12.5L15.2,10.9L15.2,0.9L12.6,0.6L12.2,0L12.6,-0.6L20,-0.8L20.6,-0.4L20.8,0L20.4,0.6L17.8,0.9L17.8,10.8L19.4,12.4L22,13.2L23.9,13.2L25.4,12.5L26.2,10.9L26.2,0.9L23.6,0.6L23.2,0L23.4,-0.4L24,-0.8L31,-0.8L31.6,-0.4L31.8,0L31.4,0.6L28.8,0.9L28.8,11L27.8,13.2L27.2,13.8L24.2,14.8L21.8,14.8L18.8,13.8L17.2,12.2L16.2,13.8L13.2,14.8L10.8,14.8L7.8,13.8L6.9,12.9L6.6,14.4L6,14.8L2,14.8Z" fill-rule="evenodd" transform="translate(149.12,97.70) scale(0.4400,-0.4200)" fill="#00ffff"/>
<path d="M0.6,21.8L0.2,21.4L0.2,20.6L1,20.1L2.6,20L8.5,10.5L8.6,10L2.5,0.9L0.6,0.8L0.2,0.4L0.2,-0.4L1,-0.9L7.4,-0.8L7.9,0L7.4,0.8L4.9,0.9L4.8,1.1L9.8,8.4L14.4,1L12.6,0.8L12.1,0L12.6,-0.8L19.4,-0.8L19.8,-0.4L19.8,0.4L19,0.9L17.4,1L11.5,10.5L11.4,11L17.5,20.1L19.4,20.2L19.8,20.6L19.8,21.4L19,21.9L12.6,21.8L12.1,21L12.6,20.2L15.1,20.1L15.2,19.9L10.2,12.6L5.6,20L7.4,20.2L7.9,21L7.4,21.8Z" fill-rule="evenodd" transform="translate(163.00,103.30) scale(0.3300,-0.3100)" fill="#00ffff"/>
<path d="M3.2,6L3.4,5.6L4,5.2L22,5.2L22.4,5.4L22.8,6L22.6,6.4L22,6.8L4,6.8L3.6,6.6ZM3.2,12L3.4,11.6L4,11.2L22,11.2L22.4,11.4L22.8,12L22.6,12.4L22,12.8L4,12.8L3.6,12.6Z" fill-rule="evenodd" transform="translate(169.84,97.70) scale(0.4400,-0.4200)" fill="#00ffff"/>
<path d="M11,21.8L10.6,21.6L7.6,18.6L5.8,17.8L5.2,17L5.4,16.6L6,16.2L8.2,17.2L9.1,18.1L9.2,18L9.2,0.9L5.6,0.6L5.2,0L5.4,-0.4L6,-0.8L15,-0.8L15.4,-0.6L15.8,0L15.6,0.4L15,0.8L11.8,0.9L11.8,21L11.6,21.4Z" fill-rule="evenodd" transform="translate(181.34,97.70) scale(0.4400,-0.4200)" fill="#00ffff"/>
<path d="M5,2.8L4.6,2.6L3.2,1L3.4,0.6L5,-0.8L5.4,-0.6L6.8,1L6.6,1.4Z" fill-rule="evenodd" transform="translate(190.19,97.70) scale(0.4400,-0.4200)" fill="#00ffff"/>
<path d="M8.8,21.8L5.8,20.8L3.5,17.6L2.2,12.2L2.2,8.8L3.2,3.9L5.2,0.8L5.8,0.2L8.8,-0.8L11.2,-0.8L14.2,0.2L16.5,3.4L17.8,8.8L17.8,12.2L16.8,17.1L14.8,20.2L14.2,20.8L11.2,21.8ZM9.1,20.2L10.9,20.2L12.6,19.4L13.4,18.6L14.4,16.6L15.2,12.2L15.2,8.8L14.4,4.4L13.4,2.4L12.6,1.6L10.9,0.8L9.1,0.8L7.4,1.6L6.6,2.4L5.6,4.4L4.8,8.8L4.8,12.2L5.6,16.6L6.6,18.6L7.4,19.4Z" fill-rule="evenodd" transform="translate(194.65,97.70) scale(0.4400,-0.4200)" fill="#00ffff"/>
<path d="M8.8,21.8L5.8,20.8L3.5,17.6L2.2,12.2L2.2,8.8L3.2,3.9L5.2,0.8L5.8,0.2L8.8,-0.8L11.2,-0.8L14.2,0.2L16.5,3.4L17.8,8.8L17.8,12.2L16.8,17.1L14.8,20.2L14.2,20.8L11.2,21.8ZM9.1,20.2L10.9,20.2L12.6,19.4L13.4,18.6L14.4,16.6L15.2,12.2L15.2,8.8L14.4,4.4L13.4,2.4L12.6,1.6L10.9,0.8L9.1,0.8L7.4,1.6L6.6,2.4L5.6,4.4L4.8,8.8L4.8,12.2L5.6,16.6L6.6,18.6L7.4,19.4Z" fill-rule="evenodd" transform="translate(203.50,97.70) scale(0.4400,-0.4200)" fill="#00ffff"/>
<path d="M1.6,21.6L1.2,21L1.6,20.4L4.2,20.1L4.2,0.9L1.6,0.6L1.2,0L1.4,-0.4L2,-0.8L9.4,-0.6L9.8,0L9.4,0.6L6.8,0.9L6.8,3.8L9.9,6.9L14.4,0.9L12.6,0.6L12.2,0L12.6,-0.6L19.4,-0.6L19.8,0L19.6,0.4L19,0.8L17.5,0.8L11.6,8.6L16.2,13.2L19,13.2L19.6,13.6L19.6,14.4L19,14.8L12.6,14.6L12.2,14L12.4,13.6L13,13.2L14.1,13.1L6.9,5.9L6.8,21L6.6,21.4L6,21.8Z" fill-rule="evenodd" transform="translate(212.35,97.70) scale(0.4400,-0.4200)" fill="#00ffff"/>
<path d="M8.8,14.8L5.8,13.8L3.2,11.2L2.2,8.2L2.2,5.8L3.2,2.8L5.8,0.2L8.8,-0.8L11.2,-0.8L14.2,0.2L16.6,2.6L16.6,3.4L16,3.8L15.6,3.6L13.6,1.6L11,0.8L9.1,0.8L7.4,1.6L5.6,3.4L4.8,6L4.8,7.1L16,7.2L16.4,7.4L16.8,8L16.8,10L15.8,12.2L14.2,13.8L12,14.8ZM5.1,9.1L5.6,10.6L7.4,12.4L9.1,13.2L11.9,13.2L13.4,12.5L14.2,10.9L14.1,8.8L5.2,8.8Z" fill-rule="evenodd" transform="translate(221.65,97.70) scale(0.4400,-0.4200)" fill="#00ffff"/>
<path d="M0.6,21.6L0.2,21L0.6,20.4L2.4,20.2L2.6,19.9L9.2,-0.2L9.6,-0.6L10.4,-0.6L10.8,-0.2L17.4,19.9L17.6,20.2L19.4,20.4L19.8,21L19.6,21.4L19,21.8L13,21.8L12.4,21.4L12.2,21L12.6,20.4L15.8,20.2L15.9,19.9L10.5,4L5.1,19.9L5.2,20.2L7.4,20.4L7.8,21L7.6,21.4L7,21.8Z" fill-rule="evenodd" transform="translate(230.06,97.70) scale(0.4400,-0.4200)" fill="#00ffff"/>
<line x1="93" x2="130.3" y1="121.45" y2="121.45" stroke="#0000ff" stroke-width="1" stroke-dasharray="8.3 7.2" opacity="0.68"/>
<path d="M1.4,14.4L1.2,14L1.6,13.4L4.2,13.1L4.2,0.9L1.6,0.6L1.2,0L1.6,-0.6L9,-0.8L9.6,-0.4L9.8,0L9.4,0.6L6.8,0.9L6.8,10.8L8.4,12.4L11,13.2L12.9,13.2L14.4,12.5L15.2,10.9L15.2,0.9L12.6,0.6L12.2,0L12.6,-0.6L20,-0.8L20.6,-0.4L20.8,0L20.4,0.6L17.8,0.9L17.8,10.8L19.4,12.4L22,13.2L23.9,13.2L25.4,12.5L26.2,10.9L26.2,0.9L23.6,0.6L23.2,0L23.4,-0.4L24,-0.8L31,-0.8L31.6,-0.4L31.8,0L31.4,0.6L28.8,0.9L28.8,11L27.8,13.2L27.2,13.8L24.2,14.8L21.8,14.8L18.8,13.8L17.2,12.2L16.2,13.8L13.2,14.8L10.8,14.8L7.8,13.8L6.9,12.9L6.6,14.4L6,14.8L2,14.8Z" fill-rule="evenodd" transform="translate(149.12,121.30) scale(0.4400,-0.4200)" fill="#0000ff"/>
<path d="M0.6,21.8L0.2,21.4L0.2,20.6L1,20.1L2.6,20L8.5,10.5L8.6,10L2.5,0.9L0.6,0.8L0.2,0.4L0.2,-0.4L1,-0.9L7.4,-0.8L7.9,0L7.4,0.8L4.9,0.9L4.8,1.1L9.8,8.4L14.4,1L12.6,0.8L12.1,0L12.6,-0.8L19.4,-0.8L19.8,-0.4L19.8,0.4L19,0.9L17.4,1L11.5,10.5L11.4,11L17.5,20.1L19.4,20.2L19.8,20.6L19.8,21.4L19,21.9L12.6,21.8L12.1,21L12.6,20.2L15.1,20.1L15.2,19.9L10.2,12.6L5.6,20L7.4,20.2L7.9,21L7.4,21.8Z" fill-rule="evenodd" transform="translate(163.00,126.90) scale(0.3300,-0.3100)" fill="#0000ff"/>
<path d="M3.2,6L3.4,5.6L4,5.2L22,5.2L22.4,5.4L22.8,6L22.6,6.4L22,6.8L4,6.8L3.6,6.6ZM3.2,12L3.4,11.6L4,11.2L22,11.2L22.4,11.4L22.8,12L22.6,12.4L22,12.8L4,12.8L3.6,12.6Z" fill-rule="evenodd" transform="translate(169.84,121.30) scale(0.4400,-0.4200)" fill="#0000ff"/>
<path d="M8.8,21.8L5.8,20.8L3.5,17.6L2.2,12.2L2.2,8.8L3.2,3.9L5.2,0.8L5.8,0.2L8.8,-0.8L11.2,-0.8L14.2,0.2L16.5,3.4L17.8,8.8L17.8,12.2L16.8,17.1L14.8,20.2L14.2,20.8L11.2,21.8ZM9.1,20.2L10.9,20.2L12.6,19.4L13.4,18.6L14.4,16.6L15.2,12.2L15.2,8.8L14.4,4.4L13.4,2.4L12.6,1.6L10.9,0.8L9.1,0.8L7.4,1.6L6.6,2.4L5.6,4.4L4.8,8.8L4.8,12.2L5.6,16.6L6.6,18.6L7.4,19.4Z" fill-rule="evenodd" transform="translate(181.34,121.30) scale(0.4400,-0.4200)" fill="#0000ff"/>
<path d="M5,2.8L4.6,2.6L3.2,1L3.4,0.6L5,-0.8L5.4,-0.6L6.8,1L6.6,1.4Z" fill-rule="evenodd" transform="translate(190.19,121.30) scale(0.4400,-0.4200)" fill="#0000ff"/>
<path d="M17,21.8L16.2,21.2L15.4,19.4L14.8,18.8L13.1,18.8L8,21.8L5.6,21.6L3.9,19.9L3.6,21.4L3,21.8L2.4,21.4L2.2,15L2.4,14.6L3,14.2L3.6,14.6L3.8,16.9L4.5,18.4L6.1,19.2L7.9,19.2L12.8,17.2L15,17.2L16,18L16.1,17.9L15.4,15.4L10.2,10.2L9.2,8.2L8.2,5.2L8.2,0L8.6,-0.6L9,-0.8L9.5,-0.5L10,-0.8L10.6,-0.4L10.8,5L11.6,7.6L12.6,9.6L16.8,14.8L17.8,17.8L17.8,21L17.6,21.4Z" fill-rule="evenodd" transform="translate(194.65,121.30) scale(0.4400,-0.4200)" fill="#0000ff"/>
<path d="M4.6,21.6L4.1,20.6L2.2,11.2L2.4,10.6L3,10.2L3.4,10.4L5.4,12.4L8,13.2L10.9,13.2L12.6,12.4L14.4,10.6L15.2,8L15.2,6L14.4,3.4L12.6,1.6L10.9,0.8L8,0.8L5.4,1.6L4.6,2.4L4.2,3.2L5.8,5L5.6,5.4L4,6.8L2.4,5.4L2.4,3.5L3.2,1.8L4.8,0.2L7.8,-0.8L11.2,-0.8L14.2,0.2L16.8,2.8L17.8,5.8L17.8,8.2L16.8,11.2L14.2,13.8L11.2,14.8L7.8,14.8L4.8,13.8L4.4,13.4L4.2,13.8L5.5,19.2L10.2,19.2L14.6,20.1L15.6,20.6L15.6,21.4L15,21.8Z" fill-rule="evenodd" transform="translate(203.50,121.30) scale(0.4400,-0.4200)" fill="#0000ff"/>
<path d="M1.6,21.6L1.2,21L1.6,20.4L4.2,20.1L4.2,0.9L1.6,0.6L1.2,0L1.4,-0.4L2,-0.8L9.4,-0.6L9.8,0L9.4,0.6L6.8,0.9L6.8,3.8L9.9,6.9L14.4,0.9L12.6,0.6L12.2,0L12.6,-0.6L19.4,-0.6L19.8,0L19.6,0.4L19,0.8L17.5,0.8L11.6,8.6L16.2,13.2L19,13.2L19.6,13.6L19.6,14.4L19,14.8L12.6,14.6L12.2,14L12.4,13.6L13,13.2L14.1,13.1L6.9,5.9L6.8,21L6.6,21.4L6,21.8Z" fill-rule="evenodd" transform="translate(212.35,121.30) scale(0.4400,-0.4200)" fill="#0000ff"/>
<path d="M8.8,14.8L5.8,13.8L3.2,11.2L2.2,8.2L2.2,5.8L3.2,2.8L5.8,0.2L8.8,-0.8L11.2,-0.8L14.2,0.2L16.6,2.6L16.6,3.4L16,3.8L15.6,3.6L13.6,1.6L11,0.8L9.1,0.8L7.4,1.6L5.6,3.4L4.8,6L4.8,7.1L16,7.2L16.4,7.4L16.8,8L16.8,10L15.8,12.2L14.2,13.8L12,14.8ZM5.1,9.1L5.6,10.6L7.4,12.4L9.1,13.2L11.9,13.2L13.4,12.5L14.2,10.9L14.1,8.8L5.2,8.8Z" fill-rule="evenodd" transform="translate(221.65,121.30) scale(0.4400,-0.4200)" fill="#0000ff"/>
<path d="M0.6,21.6L0.2,21L0.6,20.4L2.4,20.2L2.6,19.9L9.2,-0.2L9.6,-0.6L10.4,-0.6L10.8,-0.2L17.4,19.9L17.6,20.2L19.4,20.4L19.8,21L19.6,21.4L19,21.8L13,21.8L12.4,21.4L12.2,21L12.6,20.4L15.8,20.2L15.9,19.9L10.5,4L5.1,19.9L5.2,20.2L7.4,20.4L7.8,21L7.6,21.4L7,21.8Z" fill-rule="evenodd" transform="translate(230.06,121.30) scale(0.4400,-0.4200)" fill="#0000ff"/>
<line x1="93" x2="130.3" y1="144.45" y2="144.45" stroke="#00ff00" stroke-width="1" stroke-dasharray="8.3 7.2" opacity="0.68"/>
<path d="M1.4,14.4L1.2,14L1.6,13.4L4.2,13.1L4.2,0.9L1.6,0.6L1.2,0L1.6,-0.6L9,-0.8L9.6,-0.4L9.8,0L9.4,0.6L6.8,0.9L6.8,10.8L8.4,12.4L11,13.2L12.9,13.2L14.4,12.5L15.2,10.9L15.2,0.9L12.6,0.6L12.2,0L12.6,-0.6L20,-0.8L20.6,-0.4L20.8,0L20.4,0.6L17.8,0.9L17.8,10.8L19.4,12.4L22,13.2L23.9,13.2L25.4,12.5L26.2,10.9L26.2,0.9L23.6,0.6L23.2,0L23.4,-0.4L24,-0.8L31,-0.8L31.6,-0.4L31.8,0L31.4,0.6L28.8,0.9L28.8,11L27.8,13.2L27.2,13.8L24.2,14.8L21.8,14.8L18.8,13.8L17.2,12.2L16.2,13.8L13.2,14.8L10.8,14.8L7.8,13.8L6.9,12.9L6.6,14.4L6,14.8L2,14.8Z" fill-rule="evenodd" transform="translate(149.12,144.35) scale(0.4400,-0.4200)" fill="#00ff00"/>
<path d="M0.6,21.8L0.2,21.4L0.2,20.6L1,20.1L2.6,20L8.5,10.5L8.6,10L2.5,0.9L0.6,0.8L0.2,0.4L0.2,-0.4L1,-0.9L7.4,-0.8L7.9,0L7.4,0.8L4.9,0.9L4.8,1.1L9.8,8.4L14.4,1L12.6,0.8L12.1,0L12.6,-0.8L19.4,-0.8L19.8,-0.4L19.8,0.4L19,0.9L17.4,1L11.5,10.5L11.4,11L17.5,20.1L19.4,20.2L19.8,20.6L19.8,21.4L19,21.9L12.6,21.8L12.1,21L12.6,20.2L15.1,20.1L15.2,19.9L10.2,12.6L5.6,20L7.4,20.2L7.9,21L7.4,21.8Z" fill-rule="evenodd" transform="translate(163.00,149.95) scale(0.3300,-0.3100)" fill="#00ff00"/>
<path d="M3.2,6L3.4,5.6L4,5.2L22,5.2L22.4,5.4L22.8,6L22.6,6.4L22,6.8L4,6.8L3.6,6.6ZM3.2,12L3.4,11.6L4,11.2L22,11.2L22.4,11.4L22.8,12L22.6,12.4L22,12.8L4,12.8L3.6,12.6Z" fill-rule="evenodd" transform="translate(169.84,144.35) scale(0.4400,-0.4200)" fill="#00ff00"/>
<path d="M8.8,21.8L5.8,20.8L3.5,17.6L2.2,12.2L2.2,8.8L3.2,3.9L5.2,0.8L5.8,0.2L8.8,-0.8L11.2,-0.8L14.2,0.2L16.5,3.4L17.8,8.8L17.8,12.2L16.8,17.1L14.8,20.2L14.2,20.8L11.2,21.8ZM9.1,20.2L10.9,20.2L12.6,19.4L13.4,18.6L14.4,16.6L15.2,12.2L15.2,8.8L14.4,4.4L13.4,2.4L12.6,1.6L10.9,0.8L9.1,0.8L7.4,1.6L6.6,2.4L5.6,4.4L4.8,8.8L4.8,12.2L5.6,16.6L6.6,18.6L7.4,19.4Z" fill-rule="evenodd" transform="translate(181.34,144.35) scale(0.4400,-0.4200)" fill="#00ff00"/>
<path d="M5,2.8L4.6,2.6L3.2,1L3.4,0.6L5,-0.8L5.4,-0.6L6.8,1L6.6,1.4Z" fill-rule="evenodd" transform="translate(190.19,144.35) scale(0.4400,-0.4200)" fill="#00ff00"/>
<path d="M4.6,21.6L4.1,20.6L2.2,11.2L2.4,10.6L3,10.2L3.4,10.4L5.4,12.4L8,13.2L10.9,13.2L12.6,12.4L14.4,10.6L15.2,8L15.2,6L14.4,3.4L12.6,1.6L10.9,0.8L8,0.8L5.4,1.6L4.6,2.4L4.2,3.2L5.8,5L5.6,5.4L4,6.8L2.4,5.4L2.4,3.5L3.2,1.8L4.8,0.2L7.8,-0.8L11.2,-0.8L14.2,0.2L16.8,2.8L17.8,5.8L17.8,8.2L16.8,11.2L14.2,13.8L11.2,14.8L7.8,14.8L4.8,13.8L4.4,13.4L4.2,13.8L5.5,19.2L10.2,19.2L14.6,20.1L15.6,20.6L15.6,21.4L15,21.8Z" fill-rule="evenodd" transform="translate(194.65,144.35) scale(0.4400,-0.4200)" fill="#00ff00"/>
<path d="M8.8,21.8L5.8,20.8L3.5,17.6L2.2,12.2L2.2,8.8L3.2,3.9L5.2,0.8L5.8,0.2L8.8,-0.8L11.2,-0.8L14.2,0.2L16.5,3.4L17.8,8.8L17.8,12.2L16.8,17.1L14.8,20.2L14.2,20.8L11.2,21.8ZM9.1,20.2L10.9,20.2L12.6,19.4L13.4,18.6L14.4,16.6L15.2,12.2L15.2,8.8L14.4,4.4L13.4,2.4L12.6,1.6L10.9,0.8L9.1,0.8L7.4,1.6L6.6,2.4L5.6,4.4L4.8,8.8L4.8,12.2L5.6,16.6L6.6,18.6L7.4,19.4Z" fill-rule="evenodd" transform="translate(203.50,144.35) scale(0.4400,-0.4200)" fill="#00ff00"/>
<path d="M1.6,21.6L1.2,21L1.6,20.4L4.2,20.1L4.2,0.9L1.6,0.6L1.2,0L1.4,-0.4L2,-0.8L9.4,-0.6L9.8,0L9.4,0.6L6.8,0.9L6.8,3.8L9.9,6.9L14.4,0.9L12.6,0.6L12.2,0L12.6,-0.6L19.4,-0.6L19.8,0L19.6,0.4L19,0.8L17.5,0.8L11.6,8.6L16.2,13.2L19,13.2L19.6,13.6L19.6,14.4L19,14.8L12.6,14.6L12.2,14L12.4,13.6L13,13.2L14.1,13.1L6.9,5.9L6.8,21L6.6,21.4L6,21.8Z" fill-rule="evenodd" transform="translate(212.35,144.35) scale(0.4400,-0.4200)" fill="#00ff00"/>
<path d="M8.8,14.8L5.8,13.8L3.2,11.2L2.2,8.2L2.2,5.8L3.2,2.8L5.8,0.2L8.8,-0.8L11.2,-0.8L14.2,0.2L16.6,2.6L16.6,3.4L16,3.8L15.6,3.6L13.6,1.6L11,0.8L9.1,0.8L7.4,1.6L5.6,3.4L4.8,6L4.8,7.1L16,7.2L16.4,7.4L16.8,8L16.8,10L15.8,12.2L14.2,13.8L12,14.8ZM5.1,9.1L5.6,10.6L7.4,12.4L9.1,13.2L11.9,13.2L13.4,12.5L14.2,10.9L14.1,8.8L5.2,8.8Z" fill-rule="evenodd" transform="translate(221.65,144.35) scale(0.4400,-0.4200)" fill="#00ff00"/>
<path d="M0.6,21.6L0.2,21L0.6,20.4L2.4,20.2L2.6,19.9L9.2,-0.2L9.6,-0.6L10.4,-0.6L10.8,-0.2L17.4,19.9L17.6,20.2L19.4,20.4L19.8,21L19.6,21.4L19,21.8L13,21.8L12.4,21.4L12.2,21L12.6,20.4L15.8,20.2L15.9,19.9L10.5,4L5.1,19.9L5.2,20.2L7.4,20.4L7.8,21L7.6,21.4L7,21.8Z" fill-rule="evenodd" transform="translate(230.06,144.35) scale(0.4400,-0.4200)" fill="#00ff00"/>
<line x1="93" x2="130.3" y1="167.4" y2="167.4" stroke="#ff0000" stroke-width="1" stroke-dasharray="8.3 7.2" opacity="0.68"/>
<path d="M1.4,14.4L1.2,14L1.6,13.4L4.2,13.1L4.2,0.9L1.6,0.6L1.2,0L1.6,-0.6L9,-0.8L9.6,-0.4L9.8,0L9.4,0.6L6.8,0.9L6.8,10.8L8.4,12.4L11,13.2L12.9,13.2L14.4,12.5L15.2,10.9L15.2,0.9L12.6,0.6L12.2,0L12.6,-0.6L20,-0.8L20.6,-0.4L20.8,0L20.4,0.6L17.8,0.9L17.8,10.8L19.4,12.4L22,13.2L23.9,13.2L25.4,12.5L26.2,10.9L26.2,0.9L23.6,0.6L23.2,0L23.4,-0.4L24,-0.8L31,-0.8L31.6,-0.4L31.8,0L31.4,0.6L28.8,0.9L28.8,11L27.8,13.2L27.2,13.8L24.2,14.8L21.8,14.8L18.8,13.8L17.2,12.2L16.2,13.8L13.2,14.8L10.8,14.8L7.8,13.8L6.9,12.9L6.6,14.4L6,14.8L2,14.8Z" fill-rule="evenodd" transform="translate(149.12,167.40) scale(0.4400,-0.4200)" fill="#ff0000"/>
<path d="M0.6,21.8L0.2,21.4L0.2,20.6L1,20.1L2.6,20L8.5,10.5L8.6,10L2.5,0.9L0.6,0.8L0.2,0.4L0.2,-0.4L1,-0.9L7.4,-0.8L7.9,0L7.4,0.8L4.9,0.9L4.8,1.1L9.8,8.4L14.4,1L12.6,0.8L12.1,0L12.6,-0.8L19.4,-0.8L19.8,-0.4L19.8,0.4L19,0.9L17.4,1L11.5,10.5L11.4,11L17.5,20.1L19.4,20.2L19.8,20.6L19.8,21.4L19,21.9L12.6,21.8L12.1,21L12.6,20.2L15.1,20.1L15.2,19.9L10.2,12.6L5.6,20L7.4,20.2L7.9,21L7.4,21.8Z" fill-rule="evenodd" transform="translate(163.00,173.00) scale(0.3300,-0.3100)" fill="#ff0000"/>
<path d="M3.2,6L3.4,5.6L4,5.2L22,5.2L22.4,5.4L22.8,6L22.6,6.4L22,6.8L4,6.8L3.6,6.6ZM3.2,12L3.4,11.6L4,11.2L22,11.2L22.4,11.4L22.8,12L22.6,12.4L22,12.8L4,12.8L3.6,12.6Z" fill-rule="evenodd" transform="translate(169.84,167.40) scale(0.4400,-0.4200)" fill="#ff0000"/>
<path d="M8.8,21.8L5.8,20.8L3.5,17.6L2.2,12.2L2.2,8.8L3.2,3.9L5.2,0.8L5.8,0.2L8.8,-0.8L11.2,-0.8L14.2,0.2L16.5,3.4L17.8,8.8L17.8,12.2L16.8,17.1L14.8,20.2L14.2,20.8L11.2,21.8ZM9.1,20.2L10.9,20.2L12.6,19.4L13.4,18.6L14.4,16.6L15.2,12.2L15.2,8.8L14.4,4.4L13.4,2.4L12.6,1.6L10.9,0.8L9.1,0.8L7.4,1.6L6.6,2.4L5.6,4.4L4.8,8.8L4.8,12.2L5.6,16.6L6.6,18.6L7.4,19.4Z" fill-rule="evenodd" transform="translate(181.34,167.40) scale(0.4400,-0.4200)" fill="#ff0000"/>
<path d="M5,2.8L4.6,2.6L3.2,1L3.4,0.6L5,-0.8L5.4,-0.6L6.8,1L6.6,1.4Z" fill-rule="evenodd" transform="translate(190.19,167.40) scale(0.4400,-0.4200)" fill="#ff0000"/>
<path d="M4.8,20.8L3.2,19.2L2.2,17L2.4,15.6L3.6,14.4L4.4,14.4L5.8,16L4.2,17.8L4.6,18.6L5.4,19.4L8,20.2L11.9,20.2L13.6,19.4L14.4,18.6L15.2,16.9L15.2,15.1L14.1,13.2L11.9,11.8L5.8,8.8L3.2,6.2L2.2,3.2L2.4,-0.4L3,-0.8L3.6,-0.4L3.8,1.8L4.2,2.2L5.9,2.2L10.5,-0.6L15.4,-0.6L16.8,0.8L17.6,2.5L17.8,5L17.4,5.6L17,5.8L16.4,5.4L16.2,3.2L15.6,2.6L13.9,1.8L11.1,1.8L6.6,3.6L4.2,3.8L4.1,4.1L4.6,5.6L6.4,7.4L8.4,8.4L13,10.1L16.2,12.2L16.8,12.8L17.6,14.5L17.6,17.5L16.8,19.2L15.2,20.8L12.2,21.8L7.8,21.8Z" fill-rule="evenodd" transform="translate(194.65,167.40) scale(0.4400,-0.4200)" fill="#ff0000"/>
<path d="M4.6,21.6L4.1,20.6L2.2,11.2L2.4,10.6L3,10.2L3.4,10.4L5.4,12.4L8,13.2L10.9,13.2L12.6,12.4L14.4,10.6L15.2,8L15.2,6L14.4,3.4L12.6,1.6L10.9,0.8L8,0.8L5.4,1.6L4.6,2.4L4.2,3.2L5.8,5L5.6,5.4L4,6.8L2.4,5.4L2.4,3.5L3.2,1.8L4.8,0.2L7.8,-0.8L11.2,-0.8L14.2,0.2L16.8,2.8L17.8,5.8L17.8,8.2L16.8,11.2L14.2,13.8L11.2,14.8L7.8,14.8L4.8,13.8L4.4,13.4L4.2,13.8L5.5,19.2L10.2,19.2L14.6,20.1L15.6,20.6L15.6,21.4L15,21.8Z" fill-rule="evenodd" transform="translate(203.50,167.40) scale(0.4400,-0.4200)" fill="#ff0000"/>
<path d="M1.6,21.6L1.2,21L1.6,20.4L4.2,20.1L4.2,0.9L1.6,0.6L1.2,0L1.4,-0.4L2,-0.8L9.4,-0.6L9.8,0L9.4,0.6L6.8,0.9L6.8,3.8L9.9,6.9L14.4,0.9L12.6,0.6L12.2,0L12.6,-0.6L19.4,-0.6L19.8,0L19.6,0.4L19,0.8L17.5,0.8L11.6,8.6L16.2,13.2L19,13.2L19.6,13.6L19.6,14.4L19,14.8L12.6,14.6L12.2,14L12.4,13.6L13,13.2L14.1,13.1L6.9,5.9L6.8,21L6.6,21.4L6,21.8Z" fill-rule="evenodd" transform="translate(212.35,167.40) scale(0.4400,-0.4200)" fill="#ff0000"/>
<path d="M8.8,14.8L5.8,13.8L3.2,11.2L2.2,8.2L2.2,5.8L3.2,2.8L5.8,0.2L8.8,-0.8L11.2,-0.8L14.2,0.2L16.6,2.6L16.6,3.4L16,3.8L15.6,3.6L13.6,1.6L11,0.8L9.1,0.8L7.4,1.6L5.6,3.4L4.8,6L4.8,7.1L16,7.2L16.4,7.4L16.8,8L16.8,10L15.8,12.2L14.2,13.8L12,14.8ZM5.1,9.1L5.6,10.6L7.4,12.4L9.1,13.2L11.9,13.2L13.4,12.5L14.2,10.9L14.1,8.8L5.2,8.8Z" fill-rule="evenodd" transform="translate(221.65,167.40) scale(0.4400,-0.4200)" fill="#ff0000"/>
<path d="M0.6,21.6L0.2,21L0.6,20.4L2.4,20.2L2.6,19.9L9.2,-0.2L9.6,-0.6L10.4,-0.6L10.8,-0.2L17.4,19.9L17.6,20.2L19.4,20.4L19.8,21L19.6,21.4L19,21.8L13,21.8L12.4,21.4L12.2,21L12.6,20.4L15.8,20.2L15.9,19.9L10.5,4L5.1,19.9L5.2,20.2L7.4,20.4L7.8,21L7.6,21.4L7,21.8Z" fill-rule="evenodd" transform="translate(230.06,167.40) scale(0.4400,-0.4200)" fill="#ff0000"/>
<path d="M1.6,21.6L1.2,21L1.6,20.4L4.2,20.1L4.2,0.9L1.6,0.6L1.2,0L1.4,-0.4L2,-0.8L9,-0.8L9.6,-0.4L9.8,0L9.4,0.6L6.8,0.9L6.9,10.2L17.1,10.2L17.2,0.9L14.6,0.6L14.2,0L14.4,-0.4L15,-0.8L22.4,-0.6L22.8,0L22.4,0.6L19.8,0.9L19.8,20.1L22.4,20.4L22.8,21L22.6,21.4L22,21.8L15,21.8L14.4,21.4L14.2,21L14.6,20.4L17.2,20.1L17.1,11.8L6.9,11.8L6.8,20.1L9.4,20.4L9.8,21L9.6,21.4L9,21.8Z" fill-rule="evenodd" transform="translate(153.41,393.25) scale(0.5680,-0.5760)" fill="#353535"/>
<path d="M3.4,12.4L3.2,11L3.4,10.6L4,10.2L5.4,10.4L5.8,11L5.6,12.4L7.1,13.2L10.9,13.2L12.6,12.4L13.2,11.8L13.2,10.2L12.5,9.6L6.8,8.8L3.8,7.8L3.2,7.2L2.2,5L2.2,3L3.2,0.8L3.8,0.2L6.8,-0.8L10,-0.8L12.2,0.2L13.8,1.8L14.8,0.2L16.5,-0.6L18,-0.8L18.6,-0.4L18.6,0.4L18,0.8L17.2,0.8L16.6,1.4L15.8,3.1L15.8,10L14.8,12.2L13.2,13.8L11,14.8L7,14.8L4.8,13.8ZM13.2,8.1L13.2,3.2L11.6,1.6L9.9,0.8L7.1,0.8L5.5,1.6L4.8,3.1L4.8,4.9L5.6,6.5L7.5,7.4L12.8,8.2Z" fill-rule="evenodd" transform="translate(167.11,393.25) scale(0.5680,-0.5760)" fill="#353535"/>
<path d="M2,21.8L1.6,21.6L1.2,21L1.6,20.4L4.2,20.1L4.2,0.9L1.6,0.6L1.2,0L1.4,-0.4L2,-0.8L9,-0.8L9.4,-0.6L9.8,0L9.4,0.6L6.8,0.9L6.8,21L6.6,21.4L6,21.8Z" fill-rule="evenodd" transform="translate(178.54,393.25) scale(0.5680,-0.5760)" fill="#353535"/>
<path d="M8.8,14.8L5.8,13.8L3.2,11.2L2.2,8.2L2.2,5.8L3.2,2.8L5.8,0.2L8.8,-0.8L11.2,-0.8L14.2,0.2L16.8,2.8L17.8,5.8L17.8,8.2L16.8,11.2L14.2,13.8L11.2,14.8ZM9.1,13.2L10.9,13.2L12.6,12.4L14.4,10.6L15.2,8L15.2,6L14.4,3.4L12.6,1.6L10.9,0.8L9.1,0.8L7.4,1.6L5.6,3.4L4.8,6L4.8,8L5.6,10.6L7.4,12.4Z" fill-rule="evenodd" transform="translate(184.86,393.25) scale(0.5680,-0.5760)" fill="#353535"/>
<path d="M1.6,21.6L1.2,21L1.6,20.4L4.2,20.1L4.2,0.9L1.6,0.6L1.2,0L1.4,-0.4L2,-0.8L8,-0.8L8.4,-0.6L8.8,0L8.6,0.4L8,0.8L5.8,0.9L5.9,15.9L11.2,-0.2L12,-0.8L12.8,-0.2L18.1,15.9L18.2,0.9L15.6,0.6L15.2,0L15.4,-0.4L16,-0.8L23.4,-0.6L23.8,0L23.4,0.6L20.8,0.9L20.8,20.1L23.4,20.4L23.8,21L23.6,21.4L23,21.8L19,21.8L18.2,21.2L12.5,4L6.8,21.2L6,21.8Z" fill-rule="evenodd" transform="translate(205.45,393.25) scale(0.5680,-0.5760)" fill="#353535"/>
<path d="M3.4,12.4L3.2,11L3.4,10.6L4,10.2L5.4,10.4L5.8,11L5.6,12.4L7.1,13.2L10.9,13.2L12.6,12.4L13.2,11.8L13.2,10.2L12.5,9.6L6.8,8.8L3.8,7.8L3.2,7.2L2.2,5L2.2,3L3.2,0.8L3.8,0.2L6.8,-0.8L10,-0.8L12.2,0.2L13.8,1.8L14.8,0.2L16.5,-0.6L18,-0.8L18.6,-0.4L18.6,0.4L18,0.8L17.2,0.8L16.6,1.4L15.8,3.1L15.8,10L14.8,12.2L13.2,13.8L11,14.8L7,14.8L4.8,13.8ZM13.2,8.1L13.2,3.2L11.6,1.6L9.9,0.8L7.1,0.8L5.5,1.6L4.8,3.1L4.8,4.9L5.6,6.5L7.5,7.4L12.8,8.2Z" fill-rule="evenodd" transform="translate(219.72,393.25) scale(0.5680,-0.5760)" fill="#353535"/>
<path d="M5.5,14.6L3.8,13.8L2.4,12.4L2.4,9.6L3.8,8.2L12.6,4.4L13.2,3.8L13.2,2.2L12.6,1.6L10.9,0.8L7.1,0.8L5.4,1.6L4.6,2.4L3.8,4.2L3,4.8L2.6,4.6L2.2,4L2.4,-0.4L3,-0.8L3.4,-0.6L4.2,0.8L4.8,0.2L7,-0.8L11.5,-0.6L13.2,0.2L14.6,1.6L14.6,5.4L13.2,6.8L4.4,10.6L3.8,11.2L3.8,11.8L4.4,12.4L6.1,13.2L9.9,13.2L11.6,12.4L12.4,11.6L13.2,9.8L14,9.2L14.4,9.4L14.8,10L14.6,14.4L14,14.8L13.6,14.6L12.8,13.2L12.2,13.8L10,14.8Z" fill-rule="evenodd" transform="translate(231.16,393.25) scale(0.5680,-0.5760)" fill="#353535"/>
<path d="M5.5,14.6L3.8,13.8L2.4,12.4L2.4,9.6L3.8,8.2L12.6,4.4L13.2,3.8L13.2,2.2L12.6,1.6L10.9,0.8L7.1,0.8L5.4,1.6L4.6,2.4L3.8,4.2L3,4.8L2.6,4.6L2.2,4L2.4,-0.4L3,-0.8L3.4,-0.6L4.2,0.8L4.8,0.2L7,-0.8L11.5,-0.6L13.2,0.2L14.6,1.6L14.6,5.4L13.2,6.8L4.4,10.6L3.8,11.2L3.8,11.8L4.4,12.4L6.1,13.2L9.9,13.2L11.6,12.4L12.4,11.6L13.2,9.8L14,9.2L14.4,9.4L14.8,10L14.6,14.4L14,14.8L13.6,14.6L12.8,13.2L12.2,13.8L10,14.8Z" fill-rule="evenodd" transform="translate(240.88,393.25) scale(0.5680,-0.5760)" fill="#353535"/>
<path d="M4,25.8L3.6,25.6L3.2,25L3.2,-7L3.4,-7.4L4,-7.8L11,-7.8L11.4,-7.6L11.8,-7L11.6,-6.6L11,-6.2L5.8,-6.1L5.8,24.1L11,24.2L11.4,24.4L11.8,25L11.6,25.4L11,25.8Z" fill-rule="evenodd" transform="translate(259.78,393.25) scale(0.5680,-0.5760)" fill="#353535"/>
<path d="M1.6,21.6L1.2,21L1.6,20.4L4.2,20.1L4.2,0.9L1.6,0.6L1.2,0L1.4,-0.4L2,-0.8L9,-0.8L9.6,-0.4L9.8,0L9.4,0.6L6.8,0.9L6.8,10.8L8.4,12.4L11,13.2L12.9,13.2L14.4,12.5L15.2,10.9L15.2,0.9L12.6,0.6L12.2,0L12.4,-0.4L13,-0.8L20.4,-0.6L20.8,0L20.4,0.6L17.8,0.9L17.8,11L16.8,13.2L16.2,13.8L13.2,14.8L10.8,14.8L7.8,13.8L6.9,12.9L6.6,21.4L6,21.8Z" fill-rule="evenodd" transform="translate(268.21,393.25) scale(0.5680,-0.5760)" fill="#353535"/>
<path d="M3.1,9L3.2,8.6L4,8.1L22,8.1L22.4,8.2L22.9,9L22.8,9.4L22,9.9L4,9.9L3.6,9.8Z" fill-rule="evenodd" transform="translate(280.92,385.05) scale(0.4317,-0.3917)" fill="#353535"/>
<path d="M11,21.9L10.4,21.6L7.4,18.6L5.8,17.9L5.1,17L5.2,16.6L6,16.1L8.2,17.1L9,17.8L9.1,17.6L9.1,1L5.6,0.8L5.1,0L5.2,-0.4L6,-0.9L15,-0.9L15.4,-0.8L15.9,0L15.8,0.4L15,0.9L11.9,1L11.9,21L11.8,21.4Z" fill-rule="evenodd" transform="translate(290.96,385.05) scale(0.4317,-0.3917)" fill="#353535"/>
<path d="M1.6,21.6L1.2,21L1.6,20.4L4.2,20.1L4.2,0.9L1.6,0.6L1.2,0L1.4,-0.4L2,-0.8L8,-0.8L8.4,-0.6L8.8,0L8.6,0.4L8,0.8L5.8,0.9L5.9,15.9L11.2,-0.2L12,-0.8L12.8,-0.2L18.1,15.9L18.2,0.9L15.6,0.6L15.2,0L15.4,-0.4L16,-0.8L23.4,-0.6L23.8,0L23.4,0.6L20.8,0.9L20.8,20.1L23.4,20.4L23.8,21L23.6,21.4L23,21.8L19,21.8L18.2,21.2L12.5,4L6.8,21.2L6,21.8Z" fill-rule="evenodd" transform="translate(299.41,393.25) scale(0.5680,-0.5760)" fill="#353535"/>
<path d="M3,25.8L2.6,25.6L2.2,25L2.4,24.6L3,24.2L8.2,24.1L8.2,-6.1L3,-6.2L2.6,-6.4L2.2,-7L2.4,-7.4L3,-7.8L10,-7.8L10.4,-7.6L10.8,-7L10.8,25L10.6,25.4L10,25.8Z" fill-rule="evenodd" transform="translate(326.85,393.25) scale(0.5680,-0.5760)" fill="#353535"/>
<circle cx="320" cy="395.3" r="4.4" fill="none" stroke="#353535" stroke-width="1.05"/><circle cx="320" cy="395.3" r="0.85" fill="#353535"/>
<path d="M1.6,21.6L1.2,21L1.6,20.4L4.2,20.1L4.4,-0.4L5,-0.8L5.5,-0.5L6,-0.8L6.4,-0.6L6.8,0L6.9,1.1L7.8,0.2L10,-0.8L12.2,-0.8L15.2,0.2L17.8,2.8L18.8,5.8L18.8,8.2L17.8,11.2L15.2,13.8L12.2,14.8L9.5,14.6L7.8,13.8L6.9,12.9L6.6,21.4L6,21.8ZM10.1,13.2L11.9,13.2L13.6,12.4L15.4,10.6L16.2,8L16.2,6L15.4,3.4L13.6,1.6L11.9,0.8L10.1,0.8L8.4,1.6L6.8,3.2L6.8,10.8L8.4,12.4Z" fill-rule="evenodd" transform="translate(15.65,188.60) rotate(-90) scale(0.5680,-0.5760)" fill="#353535"/>
<path d="M11,25.8L10.6,25.6L8.2,23.2L6.2,20.2L4.4,16.5L3.2,11.2L3.2,6.8L4.4,1.5L6.2,-2.2L8.2,-5.2L10.6,-7.6L11,-7.8L11.6,-7.4L11.6,-6.6L9.6,-4.6L7.6,-0.6L6.6,2.4L5.8,6.8L5.8,11.2L6.6,15.6L7.6,18.6L9.6,22.6L11.6,24.6L11.6,25.4Z" fill-rule="evenodd" transform="translate(15.65,176.60) rotate(-90) scale(0.5680,-0.5760)" fill="#353535"/>
<path d="M1.6,21.6L1.2,21L1.6,20.4L4.2,20.1L4.2,0.9L1.6,0.6L1.2,0L1.4,-0.4L2,-0.8L8,-0.8L8.4,-0.6L8.8,0L8.6,0.4L8,0.8L5.8,0.9L5.9,15.9L11.2,-0.2L12,-0.8L12.8,-0.2L18.1,15.9L18.2,0.9L15.6,0.6L15.2,0L15.4,-0.4L16,-0.8L23.4,-0.6L23.8,0L23.4,0.6L20.8,0.9L20.8,20.1L23.4,20.4L23.8,21L23.6,21.4L23,21.8L19,21.8L18.2,21.2L12.5,4L6.8,21.2L6,21.8Z" fill-rule="evenodd" transform="translate(15.65,168.58) rotate(-90) scale(0.5680,-0.5760)" fill="#353535"/>
<path d="M3,25.8L2.4,25.4L2.4,24.6L4.4,22.6L6.4,18.6L7.4,15.6L8.2,11.2L8.2,6.8L7.4,2.4L6.4,-0.6L4.4,-4.6L2.4,-6.6L2.4,-7.4L3,-7.8L3.4,-7.6L5.8,-5.2L7.8,-2.2L9.6,1.5L10.8,6.8L10.8,11.2L9.6,16.5L7.8,20.2L5.8,23.2L3.4,25.6Z" fill-rule="evenodd" transform="translate(15.65,154.31) rotate(-90) scale(0.5680,-0.5760)" fill="#353535"/>
</svg></body></html>
